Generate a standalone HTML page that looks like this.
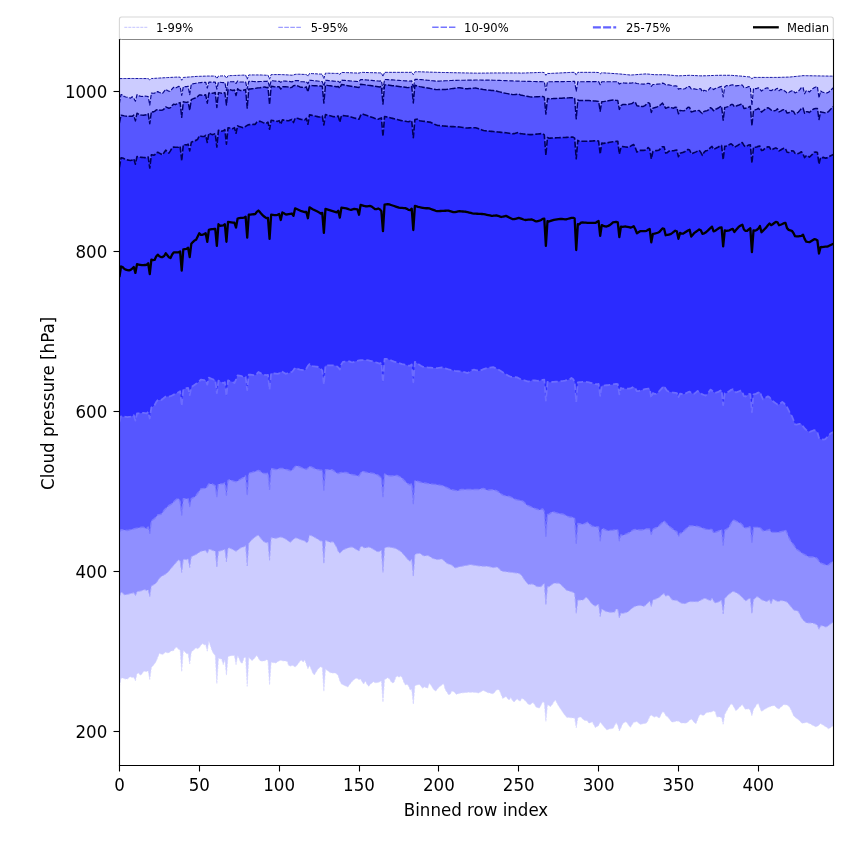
<!DOCTYPE html><html><head><meta charset="utf-8"><title>Cloud pressure percentiles</title><style>html,body{margin:0;padding:0;background:#fff;}svg{display:block;}text{font-family:"DejaVu Sans","Liberation Sans",sans-serif;fill:#000;}#wrap{position:relative;width:850px;height:850px;overflow:hidden;}.ov{position:absolute;left:0;top:0;will-change:transform;}</style></head><body><div id="wrap">
<svg width="850" height="850" viewBox="0 0 850 850">
<rect width="850" height="850" fill="#fff"/>
<defs><clipPath id="ax"><rect x="119.5" y="39.5" width="714.0" height="726.0"/></clipPath></defs>
<g clip-path="url(#ax)">
<polygon points="119.43,78.59 121.03,78.58 122.62,78.56 124.22,78.54 125.82,78.53 127.42,78.51 129.01,78.49 130.61,78.47 132.21,78.48 133.80,78.49 135.40,78.50 137.00,78.51 138.60,78.52 140.19,78.53 141.79,78.54 143.39,78.54 144.99,78.55 146.58,78.56 148.18,78.57 149.78,80.00 151.37,78.55 152.97,78.45 154.57,78.35 156.17,78.26 157.76,78.16 159.36,78.06 160.96,77.96 162.55,77.86 164.15,77.76 165.75,77.67 167.35,77.58 168.94,77.50 170.54,77.42 172.14,77.34 173.73,77.26 175.33,77.18 176.93,77.10 178.53,77.09 180.12,77.21 181.72,80.29 183.32,77.46 184.92,77.34 186.51,77.21 188.11,77.09 189.71,76.96 191.30,76.83 192.90,76.71 194.50,76.58 196.10,76.45 197.69,76.38 199.29,76.32 200.89,76.27 202.48,76.22 204.08,76.16 205.68,76.11 207.28,76.06 208.87,76.06 210.47,76.06 212.07,76.06 213.66,76.06 215.26,76.06 216.86,78.53 218.46,76.06 220.05,76.00 221.65,75.95 223.25,75.89 224.85,75.83 226.44,78.18 228.04,75.72 229.64,75.66 231.23,75.60 232.83,75.53 234.43,75.47 236.03,75.41 237.62,75.35 239.22,75.29 240.82,75.23 242.41,75.17 244.01,75.11 245.61,75.06 247.21,79.17 248.80,74.94 250.40,74.94 252.00,74.94 253.59,74.94 255.19,74.94 256.79,74.94 258.39,74.94 259.98,74.94 261.58,75.01 263.18,75.09 264.78,75.17 266.37,75.25 267.97,75.14 269.57,79.17 271.16,74.59 272.76,74.59 274.36,74.59 275.96,74.59 277.55,74.59 279.15,74.59 280.75,74.59 282.34,74.64 283.94,74.72 285.54,74.80 287.14,74.88 288.73,74.97 290.33,75.10 291.93,75.23 293.52,74.96 295.12,74.36 296.72,74.23 298.32,74.23 299.91,74.22 301.51,74.30 303.11,74.38 304.71,74.46 306.30,74.45 307.90,76.29 309.50,73.50 311.09,73.55 312.69,73.64 314.29,73.73 315.89,73.82 317.48,73.91 319.08,74.00 320.68,74.08 322.27,74.17 323.87,78.76 325.47,73.13 327.07,73.17 328.66,73.21 330.26,73.26 331.86,73.30 333.45,73.35 335.05,73.39 336.65,73.44 338.25,73.34 339.84,74.53 341.44,72.41 343.04,72.48 344.64,72.54 346.23,72.61 347.83,72.67 349.43,72.73 351.02,72.80 352.62,72.86 354.22,72.93 355.82,72.99 357.41,73.05 359.01,73.11 360.61,72.59 362.20,72.38 363.80,72.42 365.40,72.47 367.00,72.52 368.59,72.57 370.19,72.61 371.79,72.66 373.38,72.71 374.98,72.75 376.58,72.80 378.18,72.85 379.77,72.89 381.37,72.94 382.97,76.47 384.57,72.35 386.16,72.35 387.76,72.35 389.36,72.35 390.95,72.35 392.55,72.35 394.15,72.35 395.75,72.35 397.34,72.35 398.94,72.35 400.54,72.35 402.13,72.35 403.73,72.35 405.33,72.35 406.93,72.35 408.52,72.35 410.12,72.35 411.72,72.23 413.31,74.71 414.91,71.83 416.51,71.76 418.11,71.76 419.70,71.79 421.30,71.84 422.90,71.89 424.50,71.95 426.09,72.00 427.69,72.05 429.29,72.11 430.88,72.16 432.48,72.21 434.08,72.27 435.68,72.32 437.27,72.37 438.87,72.40 440.47,72.43 442.06,72.46 443.66,72.49 445.26,72.53 446.86,72.56 448.45,72.59 450.05,72.62 451.65,72.65 453.24,72.68 454.84,72.72 456.44,72.75 458.04,72.78 459.63,72.81 461.23,72.84 462.83,72.88 464.43,72.91 466.02,72.94 467.62,72.97 469.22,73.00 470.81,73.04 472.41,73.07 474.01,73.10 475.61,73.13 477.20,73.16 478.80,73.16 480.40,73.14 481.99,73.12 483.59,73.10 485.19,73.08 486.79,73.06 488.38,73.04 489.98,73.01 491.58,72.99 493.17,72.97 494.77,72.95 496.37,72.94 497.97,72.94 499.56,72.94 501.16,72.94 502.76,72.94 504.36,72.94 505.95,72.94 507.55,72.94 509.15,72.94 510.74,72.94 512.34,72.94 513.94,72.94 515.54,72.94 517.13,72.94 518.73,72.94 520.33,73.13 521.92,73.07 523.52,73.02 525.12,72.96 526.72,72.91 528.31,72.85 529.91,72.79 531.51,72.74 533.10,72.68 534.70,72.63 536.30,72.57 537.90,72.52 539.49,72.46 541.09,72.40 542.69,72.38 544.29,72.70 545.88,75.29 547.48,73.34 549.08,73.50 550.67,73.42 552.27,73.34 553.87,73.26 555.47,73.18 557.06,73.10 558.66,73.02 560.26,72.94 561.85,72.86 563.45,72.78 565.05,72.70 566.65,72.62 568.24,72.54 569.84,72.46 571.44,72.38 573.03,72.35 574.63,72.35 576.23,75.06 577.83,72.35 579.42,72.35 581.02,72.35 582.62,72.35 584.22,72.35 585.81,72.35 587.41,72.35 589.01,72.35 590.60,72.35 592.20,72.35 593.80,72.35 595.40,72.35 596.99,72.45 598.59,72.56 600.19,73.88 601.78,72.76 603.38,72.87 604.98,72.97 606.58,73.07 608.17,73.18 609.77,73.28 611.37,73.39 612.96,73.49 614.56,73.59 616.16,73.70 617.76,73.80 619.35,73.92 620.95,74.08 622.55,74.24 624.15,74.40 625.74,74.56 627.34,74.72 628.94,74.88 630.53,75.04 632.13,74.95 633.73,74.83 635.33,74.71 636.92,74.59 638.52,74.46 640.12,74.34 641.71,74.22 643.31,74.09 644.91,73.97 646.51,73.93 648.10,74.09 649.70,74.25 651.30,74.41 652.89,74.57 654.49,74.71 656.09,74.71 657.69,74.71 659.28,74.71 660.88,74.71 662.48,74.71 664.08,74.71 665.67,74.71 667.27,74.83 668.87,74.99 670.46,75.15 672.06,75.31 673.66,75.47 675.26,75.63 676.85,75.79 678.45,75.85 680.05,75.77 681.64,75.69 683.24,75.61 684.84,75.53 686.44,75.45 688.03,75.37 689.63,75.30 691.23,75.38 692.82,75.46 694.42,75.54 696.02,75.62 697.62,75.70 699.21,75.78 700.81,75.86 702.41,75.85 704.01,75.79 705.60,75.74 707.20,75.69 708.80,75.63 710.39,75.58 711.99,75.53 713.59,75.47 715.19,75.42 716.78,75.37 718.38,75.31 719.98,75.29 721.57,75.29 723.17,75.29 724.77,75.29 726.37,75.29 727.96,75.29 729.56,75.29 731.16,75.33 732.75,75.45 734.35,75.58 735.95,75.71 737.55,75.84 739.14,75.96 740.74,76.09 742.34,76.22 743.94,76.38 745.53,76.54 747.13,76.70 748.73,76.86 750.32,77.01 751.92,78.82 753.52,77.33 755.12,77.41 756.71,77.41 758.31,77.41 759.91,77.41 761.50,77.41 763.10,77.41 764.70,77.41 766.30,77.41 767.89,77.41 769.49,77.41 771.09,77.41 772.68,77.41 774.28,77.41 775.88,77.41 777.48,77.41 779.07,77.37 780.67,77.33 782.27,77.28 783.87,77.23 785.46,77.18 787.06,77.13 788.66,77.09 790.25,76.99 791.85,76.83 793.45,76.67 795.05,76.51 796.64,76.35 798.24,76.19 799.84,76.03 801.43,75.87 803.03,75.66 804.63,75.68 806.23,75.71 807.82,75.74 809.42,75.76 811.02,75.79 812.61,75.82 814.21,75.84 815.81,75.87 817.41,75.90 819.00,75.92 820.60,75.95 822.20,75.98 823.80,76.00 825.39,76.03 826.99,76.06 828.59,76.08 830.18,76.11 831.78,76.14 833.38,76.14 833.38,726.36 831.78,726.52 830.18,728.12 828.59,728.78 826.99,727.58 825.39,726.50 823.80,725.50 822.20,724.50 820.60,723.57 819.00,724.91 817.41,726.24 815.81,726.76 814.21,725.96 812.61,725.16 811.02,724.36 809.42,723.56 807.82,722.77 806.23,722.22 804.63,722.76 803.03,723.29 801.43,722.67 799.84,721.07 798.24,719.47 796.64,718.35 795.05,717.29 793.45,715.53 791.85,711.53 790.25,708.29 788.66,705.89 787.06,704.99 785.46,704.73 783.87,704.54 782.27,705.94 780.67,707.34 779.07,708.73 777.48,708.59 775.88,707.00 774.28,705.40 772.68,705.64 771.09,706.17 769.49,706.76 767.89,707.56 766.30,708.36 764.70,709.30 763.10,710.37 761.50,711.43 759.91,707.77 758.31,703.62 756.71,704.36 755.12,707.23 753.52,709.17 751.92,715.77 750.32,710.38 748.73,708.79 747.13,709.01 745.53,709.33 743.94,707.34 742.34,704.55 740.74,706.03 739.14,707.62 737.55,709.22 735.95,710.82 734.35,707.91 732.75,704.98 731.16,703.83 729.56,706.07 727.96,708.43 726.37,711.62 724.77,714.23 723.17,724.24 721.57,717.43 719.98,717.12 718.38,716.71 716.78,716.95 715.19,711.62 713.59,710.83 711.99,711.63 710.39,712.04 708.80,712.35 707.20,712.35 705.60,713.23 704.01,715.22 702.41,715.24 700.81,714.29 699.21,715.60 697.62,719.59 696.02,723.58 694.42,722.64 692.82,720.51 691.23,718.92 689.63,720.29 688.03,721.66 686.44,722.94 684.84,722.94 683.24,722.94 681.64,722.94 680.05,722.31 678.45,721.12 676.85,721.09 675.26,721.45 673.66,721.80 672.06,722.16 670.46,720.49 668.87,718.26 667.27,716.61 665.67,715.42 664.08,712.19 662.48,711.76 660.88,714.95 659.28,718.15 657.69,716.95 656.09,716.28 654.49,717.08 652.89,716.36 651.30,715.09 649.70,716.47 648.10,720.30 646.51,723.04 644.91,723.36 643.31,723.68 641.71,724.00 640.12,724.32 638.52,722.93 636.92,721.57 635.33,721.89 633.73,722.21 632.13,724.57 630.53,727.13 628.94,725.86 627.34,722.99 625.74,721.85 624.15,722.49 622.55,724.03 620.95,727.86 619.35,731.00 617.76,725.41 616.16,722.51 614.56,725.70 612.96,728.59 611.37,728.59 609.77,728.80 608.17,729.44 606.58,729.78 604.98,727.86 603.38,725.94 601.78,724.03 600.19,722.12 598.59,725.38 596.99,726.60 595.40,727.62 593.80,724.75 592.20,721.87 590.60,722.42 589.01,723.30 587.41,720.66 585.81,720.39 584.22,720.13 582.62,718.93 581.02,716.93 579.42,717.09 577.83,717.89 576.23,727.77 574.63,717.89 573.03,717.89 571.44,717.79 569.84,717.59 568.24,717.39 566.65,717.19 565.05,715.32 563.45,713.26 561.85,710.87 560.26,708.47 558.66,706.07 557.06,703.18 555.47,699.98 553.87,701.82 552.27,704.48 550.67,706.43 549.08,705.63 547.48,704.74 545.88,721.41 544.29,702.74 542.69,701.75 541.09,704.89 539.49,707.96 537.90,707.64 536.30,707.32 534.70,704.71 533.10,702.52 531.51,703.59 529.91,704.65 528.31,704.21 526.72,702.29 525.12,700.57 523.52,699.29 521.92,698.35 520.33,701.01 518.73,700.44 517.13,698.84 515.54,700.41 513.94,702.01 512.34,700.17 510.74,697.45 509.15,700.11 507.55,698.38 505.95,696.39 504.36,697.45 502.76,698.52 501.16,694.67 499.56,690.60 497.97,689.40 496.37,690.09 494.77,691.95 493.17,693.82 491.58,693.50 489.98,693.10 488.38,692.70 486.79,692.13 485.19,691.33 483.59,690.53 481.99,691.11 480.40,692.09 478.80,692.91 477.20,692.64 475.61,692.38 474.01,692.24 472.41,692.24 470.81,692.24 469.22,692.24 467.62,692.36 466.02,692.50 464.43,692.63 462.83,692.76 461.23,692.90 459.63,693.28 458.04,693.82 456.44,694.35 454.84,692.78 453.24,691.18 451.65,691.19 450.05,694.38 448.45,694.41 446.86,692.02 445.26,689.62 443.66,683.80 442.06,684.86 440.47,685.93 438.87,687.30 437.27,689.16 435.68,691.02 434.08,689.91 432.48,687.67 430.88,684.94 429.29,683.27 427.69,688.06 426.09,687.67 424.50,686.75 422.90,688.34 421.30,686.86 419.70,684.47 418.11,684.74 416.51,685.01 414.91,685.82 413.31,704.24 411.72,689.47 410.12,689.80 408.52,685.80 406.93,684.16 405.33,684.96 403.73,681.95 402.13,677.48 400.54,676.11 398.94,677.19 397.34,675.99 395.75,677.30 394.15,682.09 392.55,683.07 390.95,681.45 389.36,678.65 387.76,677.86 386.16,678.66 384.57,679.46 382.97,702.12 381.37,681.05 379.77,681.78 378.18,682.32 376.58,682.85 374.98,682.58 373.38,681.78 371.79,682.98 370.19,684.58 368.59,686.17 367.00,684.23 365.40,681.03 363.80,684.05 362.20,682.09 360.61,679.00 359.01,679.53 357.41,678.60 355.82,678.19 354.22,679.52 352.62,680.85 351.02,682.64 349.43,684.77 347.83,686.90 346.23,686.32 344.64,685.52 343.04,684.73 341.44,683.93 339.84,680.91 338.25,675.71 336.65,673.77 335.05,672.97 333.45,672.94 331.86,672.94 330.26,672.58 328.66,671.44 327.07,670.30 325.47,669.21 323.87,691.30 322.27,667.38 320.68,666.75 319.08,667.95 317.48,669.67 315.89,672.34 314.29,675.00 312.69,672.93 311.09,668.93 309.50,665.46 307.90,668.63 306.30,664.16 304.71,659.69 303.11,662.18 301.51,660.05 299.91,661.19 298.32,663.39 296.72,665.58 295.12,667.03 293.52,665.84 291.93,665.47 290.33,666.11 288.73,665.56 287.14,661.30 285.54,660.94 283.94,660.90 282.34,660.64 280.75,660.37 279.15,660.77 277.55,661.83 275.96,662.90 274.36,662.84 272.76,662.57 271.16,662.18 269.57,684.94 267.97,660.35 266.37,659.64 264.78,660.70 263.18,660.94 261.58,660.94 259.98,660.63 258.39,658.08 256.79,655.52 255.19,657.24 253.59,659.37 252.00,660.53 250.40,658.93 248.80,657.41 247.21,686.36 245.61,657.41 244.01,657.41 242.41,663.01 240.82,662.66 239.22,658.67 237.62,655.41 236.03,664.59 234.43,655.41 232.83,655.49 231.23,655.72 229.64,655.94 228.04,656.50 226.44,675.18 224.85,659.64 223.25,664.59 221.65,659.11 220.05,658.74 218.46,658.17 216.86,683.65 215.26,655.51 213.66,653.65 212.07,650.84 210.47,646.05 208.87,641.25 207.28,651.18 205.68,644.75 204.08,644.75 202.48,643.55 200.89,645.29 199.29,647.42 197.69,648.81 196.10,647.75 194.50,649.09 192.90,650.69 191.30,652.06 189.71,663.88 188.11,653.43 186.51,653.68 184.92,651.69 183.32,650.38 181.72,671.65 180.12,649.93 178.53,649.17 176.93,647.17 175.33,647.72 173.73,650.51 172.14,650.77 170.54,651.17 168.94,652.77 167.35,652.76 165.75,651.96 164.15,653.32 162.55,654.62 160.96,653.98 159.36,653.34 157.76,657.13 156.17,661.28 154.57,663.80 152.97,665.66 151.37,667.51 149.78,679.41 148.18,670.71 146.58,671.52 144.99,671.20 143.39,671.50 141.79,674.30 140.19,675.02 138.60,673.03 137.00,673.57 135.40,680.83 133.80,677.22 132.21,677.55 130.61,676.75 129.01,677.62 127.42,678.89 125.82,679.10 124.22,678.57 122.62,678.03 121.03,678.00 119.43,686.47" fill="#ccccff"/>
<polygon points="119.43,103.29 121.03,94.47 122.62,94.92 124.22,96.51 125.82,97.05 127.42,97.21 129.01,97.71 130.61,98.08 132.21,96.75 133.80,98.33 135.40,101.17 137.00,94.62 138.60,95.76 140.19,96.17 141.79,96.48 143.39,96.36 144.99,96.05 146.58,96.26 148.18,96.60 149.78,105.05 151.37,93.12 152.97,93.28 154.57,93.20 156.17,92.00 157.76,91.62 159.36,92.42 160.96,92.96 162.55,93.36 164.15,91.31 165.75,89.30 167.35,90.50 168.94,91.29 170.54,91.26 172.14,88.86 173.73,87.25 175.33,88.05 176.93,87.30 178.53,86.41 180.12,86.64 181.72,95.47 183.32,86.64 184.92,86.64 186.51,86.64 188.11,86.20 189.71,94.76 191.30,84.12 192.90,83.82 194.50,83.52 196.10,83.22 197.69,82.98 199.29,82.78 200.89,82.59 202.48,82.40 204.08,82.31 205.68,82.22 207.28,88.06 208.87,82.06 210.47,82.06 212.07,82.06 213.66,82.06 215.26,82.06 216.86,89.11 218.46,82.06 220.05,82.25 221.65,82.45 223.25,82.65 224.85,82.59 226.44,90.53 228.04,81.79 229.64,81.70 231.23,81.70 232.83,81.70 234.43,81.63 236.03,83.47 237.62,81.03 239.22,82.00 240.82,82.00 242.41,82.00 244.01,82.00 245.61,81.84 247.21,89.05 248.80,81.30 250.40,81.36 252.00,81.43 253.59,81.51 255.19,81.58 256.79,81.64 258.39,81.59 259.98,81.53 261.58,81.48 263.18,81.43 264.78,81.37 266.37,81.32 267.97,81.14 269.57,86.94 271.16,80.63 272.76,80.79 274.36,80.95 275.96,81.11 277.55,81.27 279.15,81.20 280.75,82.35 282.34,80.97 283.94,81.01 285.54,81.11 287.14,81.21 288.73,81.35 290.33,81.61 291.93,81.88 293.52,81.11 295.12,80.59 296.72,80.59 298.32,80.59 299.91,81.63 301.51,81.71 303.11,81.79 304.71,81.87 306.30,81.81 307.90,83.70 309.50,80.22 311.09,80.34 312.69,80.52 314.29,80.70 315.89,80.87 317.48,81.05 319.08,81.23 320.68,81.41 322.27,81.58 323.87,86.17 325.47,80.21 327.07,80.39 328.66,80.57 330.26,80.75 331.86,80.92 333.45,81.10 335.05,81.28 336.65,81.45 338.25,81.41 339.84,82.64 341.44,80.18 343.04,80.31 344.64,80.44 346.23,80.56 347.83,80.69 349.43,80.82 351.02,80.95 352.62,81.08 354.22,81.20 355.82,81.33 357.41,81.46 359.01,81.55 360.61,79.60 362.20,79.54 363.80,79.69 365.40,79.83 367.00,79.98 368.59,80.12 370.19,80.27 371.79,80.41 373.38,80.56 374.98,80.70 376.58,80.85 378.18,80.99 379.77,81.14 381.37,80.73 382.97,89.41 384.57,79.53 386.16,79.50 387.76,79.61 389.36,79.72 390.95,79.83 392.55,79.93 394.15,80.04 395.75,80.15 397.34,80.26 398.94,80.37 400.54,80.48 402.13,80.59 403.73,80.70 405.33,80.81 406.93,80.91 408.52,81.02 410.12,81.13 411.72,80.77 413.31,88.24 414.91,79.41 416.51,79.41 418.11,79.41 419.70,79.48 421.30,79.64 422.90,79.80 424.50,79.96 426.09,80.12 427.69,80.28 429.29,80.44 430.88,80.60 432.48,80.76 434.08,80.92 435.68,81.08 437.27,81.15 438.87,81.07 440.47,81.00 442.06,80.92 443.66,80.85 445.26,80.77 446.86,80.70 448.45,80.63 450.05,80.55 451.65,80.48 453.24,80.40 454.84,80.34 456.44,80.32 458.04,80.30 459.63,80.27 461.23,80.25 462.83,80.22 464.43,80.20 466.02,80.18 467.62,80.15 469.22,80.13 470.81,80.11 472.41,80.08 474.01,80.06 475.61,80.03 477.20,80.01 478.80,80.01 480.40,80.03 481.99,80.06 483.59,80.08 485.19,80.10 486.79,80.12 488.38,80.14 489.98,80.16 491.58,80.18 493.17,80.20 494.77,80.23 496.37,80.27 497.97,80.34 499.56,80.40 501.16,80.46 502.76,80.53 504.36,80.59 505.95,80.65 507.55,80.72 509.15,80.78 510.74,80.85 512.34,80.91 513.94,80.97 515.54,81.04 517.13,81.10 518.73,81.17 520.33,81.21 521.92,81.24 523.52,81.28 525.12,81.32 526.72,81.36 528.31,81.39 529.91,81.43 531.51,81.47 533.10,81.50 534.70,81.54 536.30,81.58 537.90,81.62 539.49,81.65 541.09,81.69 542.69,81.73 544.29,81.76 545.88,90.59 547.48,81.76 549.08,81.76 550.67,81.73 552.27,81.71 553.87,81.69 555.47,81.67 557.06,81.65 558.66,81.62 560.26,81.60 561.85,81.58 563.45,81.56 565.05,81.54 566.65,81.52 568.24,81.49 569.84,81.47 571.44,81.45 573.03,81.43 574.63,81.44 576.23,91.18 577.83,81.68 579.42,81.76 581.02,81.74 582.62,81.72 584.22,81.70 585.81,81.68 587.41,81.66 589.01,81.64 590.60,81.62 592.20,81.60 593.80,81.58 595.40,81.56 596.99,81.54 598.59,81.57 600.19,84.71 601.78,81.73 603.38,81.76 604.98,81.76 606.58,81.76 608.17,81.76 609.77,81.76 611.37,81.76 612.96,81.76 614.56,81.76 616.16,81.76 617.76,81.76 619.35,84.12 620.95,83.21 622.55,82.85 624.15,82.97 625.74,83.08 627.34,83.18 628.94,83.18 630.53,83.18 632.13,82.97 633.73,82.57 635.33,82.92 636.92,83.52 638.52,83.73 640.12,83.91 641.71,84.04 643.31,84.18 644.91,84.01 646.51,83.61 648.10,83.21 649.70,83.55 651.30,86.35 652.89,84.50 654.49,84.45 656.09,84.30 657.69,84.15 659.28,84.02 660.88,83.89 662.48,83.11 664.08,83.59 665.67,84.79 667.27,84.94 668.87,84.94 670.46,85.21 672.06,85.61 673.66,86.00 675.26,85.80 676.85,85.96 678.45,89.17 680.05,88.48 681.64,88.74 683.24,89.01 684.84,88.74 686.44,87.60 688.03,86.46 689.63,86.67 691.23,88.82 692.82,88.82 694.42,88.88 696.02,89.20 697.62,89.52 699.21,88.74 700.81,88.87 702.41,91.82 704.01,90.24 705.60,90.72 707.20,91.19 708.80,89.64 710.39,87.56 711.99,88.11 713.59,89.60 715.19,88.54 716.78,87.97 718.38,87.44 719.98,86.87 721.57,86.42 723.17,96.94 724.77,86.75 726.37,85.65 727.96,85.65 729.56,85.59 731.16,84.99 732.75,84.85 734.35,85.65 735.95,85.87 737.55,85.64 739.14,85.41 740.74,85.05 742.34,85.03 743.94,87.48 745.53,87.74 747.13,87.17 748.73,86.53 750.32,86.93 751.92,105.41 753.52,88.48 755.12,88.68 756.71,88.58 758.31,87.78 759.91,88.97 761.50,91.04 763.10,89.84 764.70,88.82 766.30,88.02 767.89,87.92 769.49,90.12 771.09,90.67 772.68,89.68 774.28,90.74 775.88,89.08 777.48,88.26 779.07,90.72 780.67,89.39 782.27,89.73 783.87,90.40 785.46,91.46 787.06,93.23 788.66,92.63 790.25,91.52 791.85,90.72 793.45,91.07 795.05,93.00 796.64,92.20 798.24,91.41 799.84,89.58 801.43,87.58 803.03,87.51 804.63,93.81 806.23,90.85 807.82,90.71 809.42,91.98 811.02,90.39 812.61,88.79 814.21,87.70 815.81,86.97 817.41,86.67 819.00,98.00 820.60,91.03 822.20,92.03 823.80,92.56 825.39,93.04 826.99,92.84 828.59,92.22 830.18,90.63 831.78,89.20 833.38,87.78 833.38,622.35 831.78,623.07 830.18,624.27 828.59,625.46 826.99,626.66 825.39,626.88 823.80,626.34 822.20,625.81 820.60,625.77 819.00,629.30 817.41,625.35 815.81,624.15 814.21,623.62 812.61,623.09 811.02,622.94 809.42,622.94 807.82,622.94 806.23,622.69 804.63,621.36 803.03,620.03 801.43,617.69 799.84,614.49 798.24,611.30 796.64,610.71 795.05,610.44 793.45,609.76 791.85,607.77 790.25,605.83 788.66,603.97 787.06,602.11 785.46,601.44 783.87,601.04 782.27,600.64 780.67,600.58 779.07,601.38 777.48,601.36 775.88,600.56 774.28,599.76 772.68,598.96 771.09,603.88 769.49,599.57 767.89,600.88 766.30,601.50 764.70,600.90 763.10,600.30 761.50,599.70 759.91,598.44 758.31,597.11 756.71,596.63 755.12,598.62 753.52,599.43 751.92,613.77 750.32,598.51 748.73,598.74 747.13,600.02 745.53,600.77 743.94,599.17 742.34,597.57 740.74,595.98 739.14,594.38 737.55,593.39 735.95,592.59 734.35,591.79 732.75,591.45 731.16,592.65 729.56,593.85 727.96,595.04 726.37,596.89 724.77,598.53 723.17,613.77 721.57,600.13 719.98,601.11 718.38,601.96 716.78,602.44 715.19,602.93 713.59,600.99 711.99,598.20 710.39,600.87 708.80,600.07 707.20,599.28 705.60,598.48 704.01,598.56 702.41,599.36 700.81,600.16 699.21,600.96 697.62,601.65 696.02,601.65 694.42,601.65 692.82,601.65 691.23,601.65 689.63,601.65 688.03,602.31 686.44,603.11 684.84,603.72 683.24,603.45 681.64,603.19 680.05,602.50 678.45,601.44 676.85,600.37 675.26,600.24 673.66,600.24 672.06,599.77 670.46,597.64 668.87,595.51 667.27,595.27 665.67,596.47 664.08,593.51 662.48,594.46 660.88,595.86 659.28,597.26 657.69,598.32 656.09,598.86 654.49,599.39 652.89,599.92 651.30,606.59 649.70,601.07 648.10,602.67 646.51,604.26 644.91,605.86 643.31,606.30 641.71,605.77 640.12,605.24 638.52,605.53 636.92,605.93 635.33,606.33 633.73,607.04 632.13,608.32 630.53,609.60 628.94,610.88 627.34,612.16 625.74,612.61 624.15,613.01 622.55,613.41 620.95,612.92 619.35,617.89 617.76,609.27 616.16,608.98 614.56,612.17 612.96,612.24 611.37,612.24 609.77,612.15 608.17,611.88 606.58,611.62 604.98,610.91 603.38,610.00 601.78,609.09 600.19,616.47 598.59,603.93 596.99,604.99 595.40,606.06 593.80,605.50 592.20,603.90 590.60,602.31 589.01,600.20 587.41,598.07 585.81,597.20 584.22,599.20 582.62,600.12 581.02,600.12 579.42,600.12 577.83,600.12 576.23,613.53 574.63,593.39 573.03,592.19 571.44,591.71 569.84,591.23 568.24,590.75 566.65,590.27 565.05,588.75 563.45,587.16 561.85,585.56 560.26,583.96 558.66,583.18 557.06,583.18 555.47,583.18 553.87,583.18 552.27,584.34 550.67,585.54 549.08,586.74 547.48,586.71 545.88,605.06 544.29,583.52 542.69,584.75 541.09,586.71 539.49,586.71 537.90,586.71 536.30,586.32 534.70,585.25 533.10,584.19 531.51,584.07 529.91,584.34 528.31,584.47 526.72,582.61 525.12,580.75 523.52,578.50 521.92,575.70 520.33,574.19 518.73,573.39 517.13,573.12 515.54,572.92 513.94,572.72 512.34,572.52 510.74,572.32 509.15,572.12 507.55,571.92 505.95,571.72 504.36,571.52 502.76,571.32 501.16,570.75 499.56,569.15 497.97,567.55 496.37,567.11 494.77,567.37 493.17,567.64 491.58,567.26 489.98,566.86 488.38,566.46 486.79,566.24 485.19,566.24 483.59,566.24 481.99,566.17 480.40,566.08 478.80,565.97 477.20,565.70 475.61,565.44 474.01,565.17 472.41,564.90 470.81,564.64 469.22,564.85 467.62,565.17 466.02,565.49 464.43,565.81 462.83,566.11 461.23,566.38 459.63,566.64 458.04,567.11 456.44,567.64 454.84,567.96 453.24,566.36 451.65,565.10 450.05,564.50 448.45,563.90 446.86,563.30 445.26,561.90 443.66,560.31 442.06,558.97 440.47,559.17 438.87,559.37 437.27,559.57 435.68,559.32 434.08,558.79 432.48,558.26 430.88,557.22 429.29,556.15 427.69,555.49 426.09,555.76 424.50,556.03 422.90,555.42 421.30,554.36 419.70,553.30 418.11,553.56 416.51,553.83 414.91,554.77 413.31,576.59 411.72,559.17 410.12,561.36 408.52,560.25 406.93,558.38 405.33,556.52 403.73,554.66 402.13,552.79 400.54,551.37 398.94,550.37 397.34,549.38 395.75,548.38 394.15,548.04 392.55,547.72 390.95,547.40 389.36,547.08 387.76,547.12 386.16,547.44 384.57,548.04 382.97,572.35 381.37,550.33 379.77,551.28 378.18,551.68 376.58,551.37 374.98,550.30 373.38,549.24 371.79,548.39 370.19,547.60 368.59,547.04 367.00,547.57 365.40,548.10 363.80,547.68 362.20,546.40 360.61,546.87 359.01,551.05 357.41,550.10 355.82,549.15 354.22,548.19 352.62,547.23 351.02,547.06 349.43,547.45 347.83,548.02 346.23,548.61 344.64,549.21 343.04,550.09 341.44,551.68 339.84,553.28 338.25,551.40 336.65,547.41 335.05,544.64 333.45,542.09 331.86,541.86 330.26,542.37 328.66,541.69 327.07,541.00 325.47,540.52 323.87,563.77 322.27,540.98 320.68,541.05 319.08,540.05 317.48,539.05 315.89,538.05 314.29,537.17 312.69,536.37 311.09,535.58 309.50,535.23 307.90,542.16 306.30,542.44 304.71,540.96 303.11,540.43 301.51,539.90 299.91,539.31 298.32,538.71 296.72,538.12 295.12,537.96 293.52,539.35 291.93,540.75 290.33,542.15 288.73,541.50 287.14,539.90 285.54,539.03 283.94,538.24 282.34,537.44 280.75,537.09 279.15,537.49 277.55,537.89 275.96,538.29 274.36,538.14 272.76,537.89 271.16,537.68 269.57,560.24 267.97,542.25 266.37,542.86 264.78,542.06 263.18,541.27 261.58,539.35 259.98,537.30 258.39,535.24 256.79,535.81 255.19,537.05 253.59,538.30 252.00,539.54 250.40,541.40 248.80,543.35 247.21,565.88 245.61,545.63 244.01,546.77 242.41,547.31 240.82,547.82 239.22,548.90 237.62,550.16 236.03,551.22 234.43,550.42 232.83,549.62 231.23,548.82 229.64,548.02 228.04,548.17 226.44,561.88 224.85,549.37 223.25,549.96 221.65,550.49 220.05,551.02 218.46,551.29 216.86,567.53 215.26,551.29 213.66,550.79 212.07,550.19 210.47,549.59 208.87,549.34 207.28,553.41 205.68,550.40 204.08,550.76 202.48,551.03 200.89,551.29 199.29,552.36 197.69,553.42 196.10,554.40 194.50,555.19 192.90,555.99 191.30,556.79 189.71,567.53 188.11,558.87 186.51,559.70 184.92,559.30 183.32,559.44 181.72,572.47 180.12,560.98 178.53,559.92 176.93,561.48 175.33,563.46 173.73,565.32 172.14,567.19 170.54,569.05 168.94,570.91 167.35,572.78 165.75,573.93 164.15,574.89 162.55,575.85 160.96,576.81 159.36,578.29 157.76,580.68 156.17,583.08 154.57,584.34 152.97,585.13 151.37,586.00 149.78,596.47 148.18,589.73 146.58,590.50 144.99,589.70 143.39,589.93 141.79,590.73 140.19,591.06 138.60,591.32 137.00,591.65 135.40,595.77 133.80,592.71 132.21,593.17 130.61,593.57 129.01,593.97 127.42,594.37 125.82,594.77 124.22,594.64 122.62,593.04 121.03,592.24 119.43,596.47" fill="#8f8fff"/>
<polygon points="119.43,123.05 121.03,115.29 122.62,115.49 124.22,115.89 125.82,116.11 127.42,116.27 129.01,116.34 130.61,116.34 132.21,116.34 133.80,115.08 135.40,120.93 137.00,113.20 138.60,114.07 140.19,114.94 141.79,115.14 143.39,115.22 144.99,114.95 146.58,114.69 148.18,113.72 149.78,123.75 151.37,111.56 152.97,111.96 154.57,111.32 156.17,110.04 157.76,109.53 159.36,110.13 160.96,110.24 162.55,110.08 164.15,108.96 165.75,106.89 167.35,107.55 168.94,108.22 170.54,107.63 172.14,105.56 173.73,104.13 175.33,104.66 176.93,103.88 178.53,103.00 180.12,102.59 181.72,117.34 183.32,101.83 184.92,102.10 186.51,102.36 188.11,102.04 189.71,110.29 191.30,99.65 192.90,98.90 194.50,98.30 196.10,97.50 197.69,96.53 199.29,94.94 200.89,95.04 202.48,95.36 204.08,95.19 205.68,94.79 207.28,103.23 208.87,93.02 210.47,93.15 212.07,93.28 213.66,93.05 215.26,92.45 216.86,107.46 218.46,92.63 220.05,92.90 221.65,93.16 223.25,93.18 224.85,92.65 226.44,104.99 228.04,89.47 229.64,89.53 231.23,90.06 232.83,90.46 234.43,89.89 236.03,95.47 237.62,88.81 239.22,90.17 240.82,90.57 242.41,90.60 244.01,90.00 245.61,89.60 247.21,108.11 248.80,89.07 250.40,88.93 252.00,88.79 253.59,88.62 255.19,88.36 256.79,88.09 258.39,87.87 259.98,87.67 261.58,87.41 263.18,87.14 264.78,87.03 266.37,87.43 267.97,87.35 269.57,104.58 271.16,86.29 272.76,86.52 274.36,86.75 275.96,86.92 277.55,86.84 279.15,86.76 280.75,89.05 282.34,86.60 283.94,86.66 285.54,86.76 287.14,86.86 288.73,87.06 290.33,87.66 291.93,87.29 293.52,85.69 295.12,85.40 296.72,85.75 298.32,86.09 299.91,86.99 301.51,87.19 303.11,87.39 304.71,87.56 306.30,86.87 307.90,91.82 309.50,85.50 311.09,85.55 312.69,85.64 314.29,85.73 315.89,85.82 317.48,85.90 319.08,85.99 320.68,86.08 322.27,86.17 323.87,103.11 325.47,85.16 327.07,85.38 328.66,85.61 330.26,85.83 331.86,86.05 333.45,86.27 335.05,86.49 336.65,86.72 338.25,86.57 339.84,88.29 341.44,84.43 343.04,84.75 344.64,85.07 346.23,85.39 347.83,85.70 349.43,85.99 351.02,86.26 352.62,86.52 354.22,86.79 355.82,87.05 357.41,87.32 359.01,87.51 360.61,84.18 362.20,84.42 363.80,84.65 365.40,84.89 367.00,85.12 368.59,85.36 370.19,85.59 371.79,85.83 373.38,86.06 374.98,86.29 376.58,86.53 378.18,86.76 379.77,87.00 381.37,86.46 382.97,104.12 384.57,84.86 386.16,84.87 387.76,85.07 389.36,85.27 390.95,85.46 392.55,85.66 394.15,85.86 395.75,86.06 397.34,86.26 398.94,86.46 400.54,86.66 402.13,86.86 403.73,87.06 405.33,87.26 406.93,87.46 408.52,87.61 410.12,87.03 411.72,86.44 413.31,102.94 414.91,85.30 416.51,85.76 418.11,86.22 419.70,86.60 421.30,86.88 422.90,87.17 424.50,87.46 426.09,87.75 427.69,88.03 429.29,88.32 430.88,88.61 432.48,88.90 434.08,89.18 435.68,89.47 437.27,89.63 438.87,89.59 440.47,89.55 442.06,89.51 443.66,89.47 445.26,89.43 446.86,89.30 448.45,89.09 450.05,88.87 451.65,88.65 453.24,88.43 454.84,88.21 456.44,88.00 458.04,87.78 459.63,87.75 461.23,88.02 462.83,88.29 464.43,88.55 466.02,88.82 467.62,88.69 469.22,88.55 470.81,88.41 472.41,88.27 474.01,88.13 475.61,88.03 477.20,88.35 478.80,88.67 480.40,88.99 481.99,89.30 483.59,89.62 485.19,89.80 486.79,89.96 488.38,90.11 489.98,90.27 491.58,90.43 493.17,90.59 494.77,90.75 496.37,91.05 497.97,91.47 499.56,91.88 501.16,92.29 502.76,92.70 504.36,93.06 505.95,93.36 507.55,93.66 509.15,93.96 510.74,94.26 512.34,94.56 513.94,94.62 515.54,94.46 517.13,94.30 518.73,94.14 520.33,94.97 521.92,95.29 523.52,95.61 525.12,95.93 526.72,96.25 528.31,96.57 529.91,96.89 531.51,97.02 533.10,96.94 534.70,96.86 536.30,96.78 537.90,96.70 539.49,96.62 541.09,96.54 542.69,96.53 544.29,97.17 545.88,114.12 547.48,98.45 549.08,98.79 550.67,98.71 552.27,98.63 553.87,98.55 555.47,98.47 557.06,98.39 558.66,98.31 560.26,98.23 561.85,98.16 563.45,98.09 565.05,98.01 566.65,97.94 568.24,97.87 569.84,97.80 571.44,97.72 573.03,97.65 574.63,98.40 576.23,118.82 577.83,100.00 579.42,100.59 581.02,100.59 582.62,100.59 584.22,100.59 585.81,100.59 587.41,100.59 589.01,100.59 590.60,100.67 592.20,100.81 593.80,100.94 595.40,101.07 596.99,101.21 598.59,101.37 600.19,111.18 601.78,101.69 603.38,101.62 604.98,101.36 606.58,101.09 608.17,100.82 609.77,100.56 611.37,100.29 612.96,100.03 614.56,100.18 616.16,100.38 617.76,100.58 619.35,109.41 620.95,105.52 622.55,104.52 624.15,104.46 625.74,104.59 627.34,104.63 628.94,104.23 630.53,103.83 632.13,103.43 633.73,102.26 635.33,102.27 636.92,105.73 638.52,106.02 640.12,106.29 641.71,106.46 643.31,106.46 644.91,105.63 646.51,104.16 648.10,102.70 649.70,103.39 651.30,112.46 652.89,108.12 654.49,107.72 656.09,107.32 657.69,106.68 659.28,105.88 660.88,104.53 662.48,103.10 664.08,105.49 665.67,108.33 667.27,107.53 668.87,107.28 670.46,107.48 672.06,107.84 673.66,108.21 675.26,107.22 676.85,107.45 678.45,113.87 680.05,110.35 681.64,110.62 683.24,110.89 684.84,110.45 686.44,108.85 688.03,107.25 689.63,107.40 691.23,111.93 692.82,111.54 694.42,111.01 696.02,110.81 697.62,110.61 699.21,110.41 700.81,112.27 702.41,113.52 704.01,111.40 705.60,111.00 707.20,110.60 708.80,109.64 710.39,107.64 711.99,108.70 713.59,110.70 715.19,109.37 716.78,108.73 718.38,108.03 719.98,106.83 721.57,106.33 723.17,120.23 724.77,107.39 726.37,107.12 727.96,106.59 729.56,105.97 731.16,104.57 732.75,104.44 734.35,106.81 735.95,106.17 737.55,105.53 739.14,104.98 740.74,104.33 742.34,104.41 743.94,108.50 745.53,108.18 747.13,107.84 748.73,107.04 750.32,106.24 751.92,125.87 753.52,110.32 755.12,109.92 756.71,109.34 758.31,108.34 759.91,109.72 761.50,112.17 763.10,110.77 764.70,109.58 766.30,108.65 767.89,107.72 769.49,108.63 771.09,110.00 772.68,110.40 774.28,110.80 775.88,110.36 777.48,108.73 779.07,111.92 780.67,111.11 782.27,110.04 783.87,109.61 785.46,109.88 787.06,113.07 788.66,112.81 790.25,111.68 791.85,110.85 793.45,111.49 795.05,114.16 796.64,113.21 798.24,112.25 799.84,110.40 801.43,108.40 803.03,108.07 804.63,113.36 806.23,111.76 807.82,111.79 809.42,112.48 811.02,111.02 812.61,109.55 814.21,108.77 815.81,108.48 817.41,108.46 819.00,119.52 820.60,111.66 822.20,112.30 823.80,112.57 825.39,112.79 826.99,112.39 828.59,111.55 830.18,109.69 831.78,108.08 833.38,106.49 833.38,560.81 831.78,562.14 830.18,563.47 828.59,564.80 826.99,565.29 825.39,564.76 823.80,564.23 822.20,563.61 820.60,562.97 819.00,561.14 817.41,558.86 815.81,557.67 814.21,557.06 812.61,557.06 811.02,557.06 809.42,557.06 807.82,556.29 806.23,555.50 804.63,554.70 803.03,553.76 801.43,552.65 799.84,551.53 798.24,550.41 796.64,549.29 795.05,546.89 793.45,544.56 791.85,542.43 790.25,540.30 788.66,537.08 787.06,533.08 785.46,529.74 783.87,530.96 782.27,531.36 780.67,531.76 779.07,532.16 777.48,532.35 775.88,532.35 774.28,532.35 772.68,532.35 771.09,532.10 769.49,529.44 767.89,530.30 766.30,530.50 764.70,530.70 763.10,530.90 761.50,529.37 759.91,527.41 758.31,527.41 756.71,527.41 755.12,527.41 753.52,527.38 751.92,542.24 750.32,526.11 748.73,527.34 747.13,527.67 745.53,527.93 743.94,527.40 742.34,525.01 740.74,523.46 739.14,522.66 737.55,521.86 735.95,521.06 734.35,520.27 732.75,520.31 731.16,523.24 729.56,526.17 727.96,528.15 726.37,529.43 724.77,530.14 723.17,545.06 721.57,529.61 719.98,530.29 718.38,531.16 716.78,531.73 715.19,532.30 713.59,532.86 711.99,529.53 710.39,529.41 708.80,529.41 707.20,529.41 705.60,529.15 704.01,528.55 702.41,527.95 700.81,527.36 699.21,526.94 697.62,526.54 696.02,526.14 694.42,525.88 692.82,525.88 691.23,525.88 689.63,525.88 688.03,527.10 686.44,528.56 684.84,530.03 683.24,531.49 681.64,532.95 680.05,533.23 678.45,536.47 676.85,531.63 675.26,530.83 673.66,529.64 672.06,528.44 670.46,527.24 668.87,525.87 667.27,524.27 665.67,522.67 664.08,521.07 662.48,522.41 660.88,524.01 659.28,525.60 657.69,526.90 656.09,527.69 654.49,528.49 652.89,529.29 651.30,534.36 649.70,529.05 648.10,528.85 646.51,528.83 644.91,529.23 643.31,529.63 641.71,530.03 640.12,530.00 638.52,529.84 636.92,529.68 635.33,529.52 633.73,529.75 632.13,530.71 630.53,531.67 628.94,532.63 627.34,533.59 625.74,534.21 624.15,534.81 622.55,535.41 620.95,534.81 619.35,540.71 617.76,530.02 616.16,529.61 614.56,529.88 612.96,530.14 611.37,530.34 609.77,530.54 608.17,530.74 606.58,530.38 604.98,529.58 603.38,528.78 601.78,529.07 600.19,540.71 598.59,527.02 596.99,526.86 595.40,526.70 593.80,526.54 592.20,526.38 590.60,525.01 589.01,523.42 587.41,522.27 585.81,523.07 584.22,523.87 582.62,524.13 581.02,523.93 579.42,523.73 577.83,523.53 576.23,543.30 574.63,518.74 573.03,517.18 571.44,517.18 569.84,517.18 568.24,516.62 566.65,515.82 565.05,515.02 563.45,514.30 561.85,513.98 560.26,513.66 558.66,513.35 557.06,513.03 555.47,512.55 553.87,512.02 552.27,511.65 550.67,512.98 549.08,514.31 547.48,514.50 545.88,536.24 544.29,511.63 542.69,508.97 541.09,509.43 539.49,510.05 537.90,509.52 536.30,508.98 534.70,508.39 533.10,507.72 531.51,507.06 529.91,506.39 528.31,505.72 526.72,504.89 525.12,503.30 523.52,501.70 521.92,500.77 520.33,500.46 518.73,500.14 517.13,499.82 515.54,499.45 513.94,498.65 512.34,497.85 510.74,497.05 509.15,496.52 507.55,496.21 505.95,495.89 504.36,495.57 502.76,495.11 501.16,493.92 499.56,492.72 497.97,491.52 496.37,490.73 494.77,490.20 493.17,489.67 491.58,489.84 489.98,490.04 488.38,490.24 486.79,490.01 485.19,489.21 483.59,488.41 481.99,488.62 480.40,489.11 478.80,489.53 477.20,489.53 475.61,489.53 474.01,489.53 472.41,489.53 470.81,489.53 469.22,489.53 467.62,489.53 466.02,489.53 464.43,489.53 462.83,489.53 461.23,489.53 459.63,490.04 458.04,490.84 456.44,490.67 454.84,490.35 453.24,490.03 451.65,489.71 450.05,489.17 448.45,488.37 446.86,487.57 445.26,486.78 443.66,485.99 442.06,485.67 440.47,485.35 438.87,485.03 437.27,484.71 435.68,484.49 434.08,484.33 432.48,484.17 430.88,484.01 429.29,483.83 427.69,483.57 426.09,483.30 424.50,483.03 422.90,482.77 421.30,482.50 419.70,482.00 418.11,481.47 416.51,480.93 414.91,480.40 413.31,503.65 411.72,483.40 410.12,485.00 408.52,484.21 406.93,482.88 405.33,481.50 403.73,479.91 402.13,478.31 400.54,477.12 398.94,476.32 397.34,475.52 395.75,475.55 394.15,475.71 392.55,475.87 390.95,476.03 389.36,475.86 387.76,475.26 386.16,474.66 384.57,474.06 382.97,496.59 381.37,477.65 379.77,476.76 378.18,475.19 376.58,474.59 374.98,473.99 373.38,473.40 371.79,473.13 370.19,472.93 368.59,472.73 367.00,472.47 365.40,472.07 363.80,471.67 362.20,471.27 360.61,473.26 359.01,475.99 357.41,475.68 355.82,475.36 354.22,475.04 352.62,474.72 351.02,474.24 349.43,473.64 347.83,473.05 346.23,472.47 344.64,472.47 343.04,472.47 341.44,472.47 339.84,472.88 338.25,473.67 336.65,473.00 335.05,471.80 333.45,470.60 331.86,469.65 330.26,469.65 328.66,469.65 327.07,469.65 325.47,469.65 323.87,490.12 322.27,470.12 320.68,470.30 319.08,469.90 317.48,469.50 315.89,469.10 314.29,468.47 312.69,467.67 311.09,466.87 309.50,466.24 307.90,468.23 306.30,469.47 304.71,468.87 303.11,468.28 301.51,467.68 299.91,467.01 298.32,466.33 296.72,465.64 295.12,466.62 293.52,468.45 291.93,470.27 290.33,470.76 288.73,470.23 287.14,469.69 285.54,469.28 283.94,468.88 282.34,468.48 280.75,468.39 279.15,468.79 277.55,469.19 275.96,469.59 274.36,469.26 272.76,468.81 271.16,468.35 269.57,489.41 267.97,472.71 266.37,473.74 264.78,473.47 263.18,473.21 261.58,472.23 259.98,471.17 258.39,470.47 256.79,470.95 255.19,471.43 253.59,471.91 252.00,472.38 250.40,472.80 248.80,473.24 247.21,495.77 245.61,475.91 244.01,477.09 242.41,478.05 240.82,479.00 239.22,479.96 237.62,480.91 236.03,481.73 234.43,481.33 232.83,480.88 231.23,480.35 229.64,479.82 228.04,480.46 226.44,495.18 224.85,482.86 223.25,483.88 221.65,483.88 220.05,483.88 218.46,483.88 216.86,496.59 215.26,485.73 213.66,484.77 212.07,483.88 210.47,483.88 208.87,483.88 207.28,486.63 205.68,488.23 204.08,488.43 202.48,488.63 200.89,488.83 199.29,491.02 197.69,493.22 196.10,495.41 194.50,496.96 192.90,497.76 191.30,498.56 189.71,506.47 188.11,498.71 186.51,498.71 184.92,498.71 183.32,498.71 181.72,514.94 180.12,501.66 178.53,498.46 176.93,499.03 175.33,500.26 173.73,501.86 172.14,503.46 170.54,504.70 168.94,505.50 167.35,506.84 165.75,508.43 164.15,510.04 162.55,512.44 160.96,514.30 159.36,514.57 157.76,514.84 156.17,516.85 154.57,518.58 152.97,519.72 151.37,520.86 149.78,533.30 148.18,526.99 146.58,528.74 144.99,527.94 143.39,527.14 141.79,527.19 140.19,527.51 138.60,527.83 137.00,528.15 135.40,528.49 133.80,528.89 132.21,529.29 130.61,529.69 129.01,530.09 127.42,530.47 125.82,530.27 124.22,530.07 122.62,529.87 121.03,529.77 119.43,531.89" fill="#5656ff"/>
<polygon points="119.43,167.34 121.03,157.82 122.62,158.02 124.22,158.75 125.82,159.47 127.42,159.87 129.01,160.21 130.61,160.56 132.21,160.03 133.80,158.96 135.40,164.17 137.00,156.49 138.60,156.89 140.19,157.18 141.79,157.34 143.39,157.50 144.99,157.63 146.58,157.76 148.18,156.96 149.78,168.05 151.37,154.76 152.97,155.08 154.57,154.99 156.17,153.00 157.76,152.19 159.36,153.08 160.96,153.98 162.55,154.88 164.15,152.55 165.75,150.21 167.35,151.64 168.94,153.08 170.54,150.65 172.14,147.77 173.73,147.01 175.33,147.21 176.93,147.23 178.53,147.23 180.12,146.28 181.72,160.81 183.32,144.59 184.92,144.75 186.51,144.91 188.11,144.15 189.71,150.93 191.30,142.31 192.90,141.51 194.50,140.71 196.10,140.35 197.69,139.23 199.29,135.87 200.89,136.21 202.48,136.56 204.08,136.52 205.68,135.26 207.28,142.46 208.87,133.05 210.47,133.85 212.07,134.65 213.66,134.33 215.26,133.59 216.86,147.05 218.46,130.19 220.05,131.17 221.65,131.17 223.25,130.82 224.85,129.68 226.44,144.23 228.04,127.72 229.64,128.06 231.23,128.40 232.83,128.59 234.43,127.68 236.03,133.29 237.62,125.90 239.22,126.53 240.82,127.06 242.41,127.60 244.01,127.37 245.61,126.34 247.21,125.32 248.80,124.66 250.40,124.58 252.00,124.50 253.59,124.42 255.19,124.34 256.79,122.26 258.39,121.39 259.98,121.19 261.58,121.87 263.18,122.64 264.78,123.24 266.37,123.24 267.97,122.10 269.57,129.28 271.16,120.20 272.76,120.55 274.36,120.91 275.96,121.26 277.55,121.33 279.15,120.67 280.75,124.34 282.34,119.90 283.94,120.14 285.54,120.38 287.14,120.62 288.73,120.68 290.33,120.04 291.93,119.40 293.52,122.58 295.12,118.12 296.72,118.24 298.32,118.56 299.91,119.16 301.51,119.46 303.11,119.76 304.71,119.98 306.30,118.27 307.90,124.28 309.50,114.85 311.09,115.10 312.69,115.48 314.29,115.85 315.89,116.22 317.48,116.60 319.08,116.97 320.68,116.93 322.27,116.02 323.87,124.99 325.47,114.50 327.07,114.93 328.66,115.36 330.26,115.79 331.86,116.22 333.45,116.65 335.05,116.72 336.65,116.40 338.25,116.08 339.84,122.16 341.44,115.47 343.04,115.63 344.64,115.79 346.23,115.95 347.83,116.11 349.43,116.47 351.02,116.95 352.62,117.43 354.22,117.91 355.82,118.39 357.41,118.87 359.01,119.28 360.61,115.36 362.20,113.83 363.80,114.40 365.40,114.97 367.00,115.54 368.59,116.12 370.19,116.69 371.79,117.26 373.38,117.83 374.98,118.40 376.58,118.97 378.18,119.26 379.77,118.60 381.37,117.93 382.97,136.47 384.57,116.60 386.16,116.79 387.76,117.19 389.36,117.59 390.95,117.99 392.55,118.39 394.15,118.79 395.75,119.19 397.34,119.59 398.94,119.98 400.54,120.38 402.13,120.72 403.73,120.98 405.33,121.25 406.93,121.52 408.52,121.73 410.12,121.20 411.72,120.66 413.31,137.65 414.91,119.60 416.51,119.24 418.11,118.97 419.70,120.69 421.30,120.93 422.90,121.17 424.50,121.41 426.09,121.65 427.69,121.89 429.29,122.13 430.88,122.41 432.48,123.21 434.08,124.01 435.68,124.81 437.27,125.36 438.87,125.52 440.47,125.68 442.06,125.84 443.66,126.00 445.26,126.16 446.86,126.32 448.45,126.47 450.05,126.53 451.65,126.59 453.24,126.65 454.84,126.71 456.44,126.77 458.04,126.85 459.63,127.08 461.23,127.31 462.83,127.54 464.43,127.77 466.02,127.99 467.62,127.94 469.22,127.88 470.81,127.82 472.41,127.76 474.01,127.70 475.61,127.70 477.20,128.27 478.80,128.84 480.40,129.41 481.99,129.98 483.59,130.55 485.19,130.74 486.79,130.90 488.38,131.06 489.98,131.22 491.58,131.38 493.17,131.54 494.77,131.69 496.37,131.85 497.97,132.01 499.56,132.17 501.16,132.33 502.76,132.49 504.36,132.65 505.95,132.81 507.55,132.99 509.15,133.25 510.74,133.50 512.34,133.76 513.94,133.67 515.54,133.25 517.13,132.84 518.73,132.42 520.33,133.66 521.92,133.82 523.52,133.98 525.12,134.14 526.72,134.30 528.31,134.46 529.91,134.62 531.51,134.63 533.10,134.47 534.70,134.31 536.30,134.15 537.90,133.99 539.49,133.83 541.09,133.67 542.69,133.66 544.29,134.93 545.88,155.29 547.48,137.49 549.08,138.20 550.67,138.12 552.27,138.04 553.87,137.96 555.47,137.88 557.06,137.80 558.66,137.72 560.26,137.64 561.85,137.57 563.45,137.50 565.05,137.43 566.65,137.35 568.24,137.28 569.84,137.21 571.44,137.14 573.03,137.06 574.63,138.12 576.23,158.82 577.83,140.35 579.42,141.18 581.02,141.18 582.62,141.18 584.22,141.18 585.81,141.18 587.41,141.18 589.01,141.18 590.60,141.10 592.20,140.99 593.80,140.88 595.40,140.76 596.99,140.65 598.59,141.07 600.19,154.12 601.78,143.06 603.38,143.39 604.98,143.12 606.58,142.85 608.17,142.59 609.77,142.32 611.37,142.06 612.96,141.79 614.56,141.58 616.16,141.38 617.76,141.18 619.35,154.12 620.95,147.44 622.55,146.52 624.15,146.72 625.74,146.92 627.34,147.12 628.94,146.73 630.53,146.13 632.13,145.34 633.73,144.54 635.33,147.68 636.92,152.07 638.52,151.12 640.12,150.35 641.71,150.35 643.31,150.35 644.91,150.12 646.51,149.72 648.10,147.50 649.70,148.79 651.30,158.81 652.89,151.60 654.49,151.00 656.09,150.62 657.69,150.46 659.28,149.88 660.88,148.28 662.48,146.68 664.08,146.69 665.67,153.08 667.27,152.62 668.87,151.18 670.46,150.70 672.06,150.70 673.66,150.70 675.26,150.24 676.85,150.03 678.45,156.70 680.05,153.16 681.64,152.76 683.24,152.36 684.84,151.68 686.44,150.54 688.03,149.40 689.63,149.95 691.23,153.77 692.82,153.19 694.42,152.61 696.02,151.86 697.62,151.06 699.21,150.27 700.81,152.39 702.41,155.31 704.01,152.34 705.60,150.87 707.20,150.55 708.80,149.61 710.39,147.53 711.99,146.40 713.59,149.43 715.19,148.63 716.78,147.83 718.38,147.00 719.98,146.00 721.57,145.57 723.17,159.52 724.77,146.37 726.37,145.93 727.96,145.22 729.56,144.51 731.16,143.80 732.75,145.19 734.35,147.16 735.95,146.37 737.55,145.57 739.14,144.35 740.74,142.92 742.34,142.62 743.94,145.41 745.53,146.83 747.13,145.92 748.73,145.01 750.32,144.70 751.92,163.05 753.52,147.17 755.12,147.17 756.71,146.98 758.31,146.34 759.91,146.15 761.50,150.41 763.10,150.18 764.70,148.58 766.30,147.65 767.89,146.72 769.49,147.13 771.09,149.98 772.68,149.28 774.28,148.58 775.88,147.88 777.48,148.82 779.07,150.90 780.67,149.94 782.27,148.98 783.87,148.36 785.46,148.57 787.06,152.29 788.66,152.46 790.25,151.99 791.85,150.75 793.45,150.93 795.05,153.33 796.64,153.98 798.24,153.58 799.84,152.70 801.43,151.74 803.03,154.06 804.63,157.57 806.23,155.75 807.82,155.97 809.42,157.07 811.02,155.64 812.61,154.19 814.21,152.27 815.81,151.93 817.41,152.54 819.00,164.11 820.60,157.36 822.20,157.61 823.80,157.41 825.39,158.16 826.99,157.86 828.59,156.90 830.18,156.04 831.78,155.32 833.38,154.59 833.38,432.12 831.78,432.85 830.18,433.81 828.59,435.61 826.99,437.40 825.39,439.20 823.80,439.63 822.20,439.43 820.60,439.23 819.00,438.00 817.41,432.29 815.81,430.69 814.21,430.18 812.61,430.78 811.02,431.38 809.42,431.98 807.82,430.98 806.23,429.92 804.63,428.52 803.03,426.39 801.43,424.26 799.84,423.79 798.24,424.19 796.64,424.59 795.05,424.41 793.45,420.02 791.85,416.19 790.25,413.40 788.66,410.37 787.06,407.17 785.46,405.07 783.87,403.20 782.27,401.87 780.67,403.20 779.07,404.53 777.48,404.56 775.88,403.37 774.28,402.17 772.68,400.97 771.09,399.12 769.49,397.26 767.89,396.33 766.30,397.33 764.70,398.32 763.10,399.32 761.50,396.06 759.91,391.78 758.31,392.58 756.71,393.38 755.12,394.18 753.52,394.49 751.92,412.24 750.32,394.09 748.73,393.89 747.13,395.15 745.53,396.48 743.94,396.22 742.34,392.23 740.74,390.67 739.14,391.27 737.55,391.87 735.95,392.47 734.35,390.88 732.75,389.28 731.16,389.82 729.56,390.94 727.96,392.06 726.37,393.18 724.77,393.30 723.17,405.18 721.57,390.11 719.98,390.79 718.38,391.94 716.78,392.38 715.19,392.83 713.59,391.96 711.99,390.63 710.39,389.63 708.80,392.02 707.20,394.42 705.60,395.54 704.01,395.00 702.41,394.47 700.81,393.31 699.21,391.98 697.62,391.00 696.02,392.33 694.42,393.66 692.82,393.84 691.23,392.78 689.63,391.71 688.03,392.19 686.44,392.99 684.84,393.79 683.24,394.28 681.64,394.01 680.05,393.75 678.45,397.18 676.85,393.21 675.26,392.95 673.66,392.68 672.06,392.41 670.46,392.06 668.87,391.53 667.27,390.99 665.67,388.91 664.08,386.11 662.48,387.53 660.88,389.33 659.28,391.13 657.69,392.70 656.09,393.89 654.49,393.86 652.89,393.07 651.30,397.89 649.70,388.71 648.10,388.71 646.51,388.83 644.91,389.23 643.31,389.63 641.71,390.03 640.12,390.53 638.52,391.06 636.92,391.19 635.33,388.39 633.73,386.87 632.13,387.67 630.53,388.47 628.94,388.71 627.34,388.71 625.74,388.71 624.15,388.71 622.55,388.71 620.95,387.96 619.35,394.36 617.76,384.24 616.16,383.97 614.56,384.23 612.96,384.49 611.37,384.69 609.77,384.89 608.17,385.09 606.58,385.27 604.98,385.43 603.38,385.59 601.78,385.75 600.19,395.77 598.59,383.87 596.99,384.27 595.40,384.21 593.80,383.68 592.20,383.15 590.60,382.79 589.01,382.47 587.41,382.15 585.81,381.83 584.22,381.72 582.62,381.88 581.02,382.04 579.42,382.20 577.83,382.35 576.23,402.12 574.63,381.70 573.03,378.91 571.44,377.97 569.84,379.17 568.24,379.81 566.65,380.21 565.05,380.61 563.45,380.97 561.85,381.13 560.26,381.29 558.66,381.45 557.06,381.61 555.47,381.75 553.87,381.88 552.27,382.01 550.67,382.15 549.08,382.28 547.48,381.89 545.88,400.71 544.29,379.76 542.69,379.85 541.09,380.24 539.49,380.64 537.90,380.89 536.30,380.69 534.70,380.49 533.10,380.29 531.51,380.62 529.91,381.15 528.31,381.62 526.72,381.14 525.12,380.66 523.52,380.18 521.92,379.70 520.33,379.02 518.73,378.22 517.13,377.42 515.54,377.26 513.94,377.10 512.34,376.94 510.74,376.78 509.15,376.16 507.55,375.20 505.95,374.24 504.36,373.28 502.76,372.32 501.16,371.32 499.56,370.32 497.97,369.33 496.37,368.52 494.77,367.82 493.17,367.13 491.58,367.35 489.98,367.61 488.38,367.86 486.79,368.12 485.19,368.57 483.59,369.18 481.99,369.80 480.40,370.41 478.80,370.89 477.20,370.49 475.61,370.09 474.01,369.69 472.41,370.12 470.81,371.12 469.22,372.12 467.62,373.04 466.02,372.64 464.43,372.24 462.83,371.84 461.23,371.57 459.63,371.41 458.04,371.25 456.44,371.09 454.84,370.90 453.24,370.50 451.65,370.10 450.05,369.70 448.45,369.26 446.86,368.78 445.26,368.30 443.66,367.82 442.06,367.44 440.47,367.64 438.87,367.84 437.27,368.04 435.68,368.05 434.08,367.95 432.48,367.84 430.88,367.72 429.29,367.60 427.69,367.48 426.09,367.30 424.50,367.03 422.90,366.77 421.30,365.92 419.70,364.91 418.11,363.89 416.51,362.87 414.91,361.86 413.31,382.24 411.72,364.38 410.12,365.75 408.52,365.68 406.93,365.28 405.33,364.88 403.73,364.48 402.13,364.08 400.54,363.64 398.94,363.16 397.34,362.68 395.75,362.20 394.15,361.71 392.55,361.07 390.95,360.43 389.36,359.79 387.76,359.15 386.16,358.94 384.57,358.94 382.97,382.24 381.37,362.49 379.77,363.75 378.18,363.22 376.58,362.68 374.98,362.15 373.38,361.62 371.79,361.09 370.19,360.76 368.59,360.44 367.00,360.12 365.40,359.97 363.80,360.07 362.20,360.16 360.61,360.26 359.01,360.35 357.41,360.82 355.82,361.30 354.22,361.83 352.62,362.36 351.02,362.13 349.43,361.33 347.83,361.31 346.23,361.47 344.64,361.63 343.04,361.79 341.44,364.17 339.84,369.51 338.25,367.38 336.65,366.24 335.05,365.44 333.45,365.41 331.86,365.41 330.26,365.41 328.66,365.41 327.07,365.41 325.47,365.41 323.87,384.47 322.27,370.33 320.68,369.00 319.08,367.67 317.48,366.75 315.89,366.55 314.29,366.35 312.69,366.15 311.09,365.13 309.50,364.10 307.90,365.90 306.30,368.70 304.71,370.27 303.11,370.07 301.51,369.87 299.91,369.67 298.32,369.05 296.72,368.37 295.12,367.68 293.52,370.02 291.93,371.98 290.33,372.46 288.73,372.94 287.14,373.42 285.54,373.85 283.94,372.78 282.34,371.72 280.75,371.67 279.15,373.27 277.55,373.79 275.96,373.65 274.36,373.50 272.76,373.36 271.16,373.21 269.57,389.41 267.97,374.86 266.37,375.15 264.78,374.89 263.18,374.62 261.58,373.78 259.98,372.87 258.39,371.95 256.79,373.88 255.19,375.22 253.59,375.06 252.00,374.90 250.40,374.74 248.80,374.64 247.21,390.12 245.61,376.77 244.01,377.16 242.41,376.52 240.82,375.95 239.22,375.68 237.62,375.42 236.03,379.73 234.43,383.01 232.83,382.21 231.23,381.53 229.64,381.00 228.04,380.46 226.44,395.88 224.85,382.26 223.25,383.06 221.65,382.27 220.05,381.47 218.46,380.67 216.86,393.06 215.26,379.93 213.66,379.66 212.07,378.99 210.47,378.31 208.87,377.63 207.28,384.59 205.68,379.91 204.08,380.18 202.48,379.91 200.89,379.65 199.29,381.24 197.69,382.73 196.10,383.85 194.50,384.97 192.90,386.09 191.30,387.20 189.71,395.18 188.11,387.90 186.51,388.20 184.92,388.74 183.32,389.27 181.72,405.77 180.12,391.14 178.53,392.20 176.93,393.04 175.33,393.84 173.73,394.64 172.14,395.43 170.54,396.23 168.94,396.59 167.35,396.59 165.75,396.59 164.15,397.79 162.55,399.12 160.96,400.12 159.36,400.12 157.76,400.12 156.17,402.03 154.57,405.22 152.97,406.56 151.37,407.52 149.78,418.47 148.18,412.02 146.58,413.42 144.99,413.16 143.39,412.89 141.79,412.96 140.19,413.14 138.60,413.32 137.00,413.49 135.40,420.59 133.80,415.16 132.21,416.07 130.61,416.54 129.01,416.80 127.42,417.06 125.82,416.86 124.22,416.66 122.62,416.46 121.03,416.36 119.43,422.00" fill="#2b2bff"/>
<polyline points="119.43,686.47 121.03,678.00 122.62,678.03 124.22,678.57 125.82,679.10 127.42,678.89 129.01,677.62 130.61,676.75 132.21,677.55 133.80,677.22 135.40,680.83 137.00,673.57 138.60,673.03 140.19,675.02 141.79,674.30 143.39,671.50 144.99,671.20 146.58,671.52 148.18,670.71 149.78,679.41 151.37,667.51 152.97,665.66 154.57,663.80 156.17,661.28 157.76,657.13 159.36,653.34 160.96,653.98 162.55,654.62 164.15,653.32 165.75,651.96 167.35,652.76 168.94,652.77 170.54,651.17 172.14,650.77 173.73,650.51 175.33,647.72 176.93,647.17 178.53,649.17 180.12,649.93 181.72,671.65 183.32,650.38 184.92,651.69 186.51,653.68 188.11,653.43 189.71,663.88 191.30,652.06 192.90,650.69 194.50,649.09 196.10,647.75 197.69,648.81 199.29,647.42 200.89,645.29 202.48,643.55 204.08,644.75 205.68,644.75 207.28,651.18 208.87,641.25 210.47,646.05 212.07,650.84 213.66,653.65 215.26,655.51 216.86,683.65 218.46,658.17 220.05,658.74 221.65,659.11 223.25,664.59 224.85,659.64 226.44,675.18 228.04,656.50 229.64,655.94 231.23,655.72 232.83,655.49 234.43,655.41 236.03,664.59 237.62,655.41 239.22,658.67 240.82,662.66 242.41,663.01 244.01,657.41 245.61,657.41 247.21,686.36 248.80,657.41 250.40,658.93 252.00,660.53 253.59,659.37 255.19,657.24 256.79,655.52 258.39,658.08 259.98,660.63 261.58,660.94 263.18,660.94 264.78,660.70 266.37,659.64 267.97,660.35 269.57,684.94 271.16,662.18 272.76,662.57 274.36,662.84 275.96,662.90 277.55,661.83 279.15,660.77 280.75,660.37 282.34,660.64 283.94,660.90 285.54,660.94 287.14,661.30 288.73,665.56 290.33,666.11 291.93,665.47 293.52,665.84 295.12,667.03 296.72,665.58 298.32,663.39 299.91,661.19 301.51,660.05 303.11,662.18 304.71,659.69 306.30,664.16 307.90,668.63 309.50,665.46 311.09,668.93 312.69,672.93 314.29,675.00 315.89,672.34 317.48,669.67 319.08,667.95 320.68,666.75 322.27,667.38 323.87,691.30 325.47,669.21 327.07,670.30 328.66,671.44 330.26,672.58 331.86,672.94 333.45,672.94 335.05,672.97 336.65,673.77 338.25,675.71 339.84,680.91 341.44,683.93 343.04,684.73 344.64,685.52 346.23,686.32 347.83,686.90 349.43,684.77 351.02,682.64 352.62,680.85 354.22,679.52 355.82,678.19 357.41,678.60 359.01,679.53 360.61,679.00 362.20,682.09 363.80,684.05 365.40,681.03 367.00,684.23 368.59,686.17 370.19,684.58 371.79,682.98 373.38,681.78 374.98,682.58 376.58,682.85 378.18,682.32 379.77,681.78 381.37,681.05 382.97,702.12 384.57,679.46 386.16,678.66 387.76,677.86 389.36,678.65 390.95,681.45 392.55,683.07 394.15,682.09 395.75,677.30 397.34,675.99 398.94,677.19 400.54,676.11 402.13,677.48 403.73,681.95 405.33,684.96 406.93,684.16 408.52,685.80 410.12,689.80 411.72,689.47 413.31,704.24 414.91,685.82 416.51,685.01 418.11,684.74 419.70,684.47 421.30,686.86 422.90,688.34 424.50,686.75 426.09,687.67 427.69,688.06 429.29,683.27 430.88,684.94 432.48,687.67 434.08,689.91 435.68,691.02 437.27,689.16 438.87,687.30 440.47,685.93 442.06,684.86 443.66,683.80 445.26,689.62 446.86,692.02 448.45,694.41 450.05,694.38 451.65,691.19 453.24,691.18 454.84,692.78 456.44,694.35 458.04,693.82 459.63,693.28 461.23,692.90 462.83,692.76 464.43,692.63 466.02,692.50 467.62,692.36 469.22,692.24 470.81,692.24 472.41,692.24 474.01,692.24 475.61,692.38 477.20,692.64 478.80,692.91 480.40,692.09 481.99,691.11 483.59,690.53 485.19,691.33 486.79,692.13 488.38,692.70 489.98,693.10 491.58,693.50 493.17,693.82 494.77,691.95 496.37,690.09 497.97,689.40 499.56,690.60 501.16,694.67 502.76,698.52 504.36,697.45 505.95,696.39 507.55,698.38 509.15,700.11 510.74,697.45 512.34,700.17 513.94,702.01 515.54,700.41 517.13,698.84 518.73,700.44 520.33,701.01 521.92,698.35 523.52,699.29 525.12,700.57 526.72,702.29 528.31,704.21 529.91,704.65 531.51,703.59 533.10,702.52 534.70,704.71 536.30,707.32 537.90,707.64 539.49,707.96 541.09,704.89 542.69,701.75 544.29,702.74 545.88,721.41 547.48,704.74 549.08,705.63 550.67,706.43 552.27,704.48 553.87,701.82 555.47,699.98 557.06,703.18 558.66,706.07 560.26,708.47 561.85,710.87 563.45,713.26 565.05,715.32 566.65,717.19 568.24,717.39 569.84,717.59 571.44,717.79 573.03,717.89 574.63,717.89 576.23,727.77 577.83,717.89 579.42,717.09 581.02,716.93 582.62,718.93 584.22,720.13 585.81,720.39 587.41,720.66 589.01,723.30 590.60,722.42 592.20,721.87 593.80,724.75 595.40,727.62 596.99,726.60 598.59,725.38 600.19,722.12 601.78,724.03 603.38,725.94 604.98,727.86 606.58,729.78 608.17,729.44 609.77,728.80 611.37,728.59 612.96,728.59 614.56,725.70 616.16,722.51 617.76,725.41 619.35,731.00 620.95,727.86 622.55,724.03 624.15,722.49 625.74,721.85 627.34,722.99 628.94,725.86 630.53,727.13 632.13,724.57 633.73,722.21 635.33,721.89 636.92,721.57 638.52,722.93 640.12,724.32 641.71,724.00 643.31,723.68 644.91,723.36 646.51,723.04 648.10,720.30 649.70,716.47 651.30,715.09 652.89,716.36 654.49,717.08 656.09,716.28 657.69,716.95 659.28,718.15 660.88,714.95 662.48,711.76 664.08,712.19 665.67,715.42 667.27,716.61 668.87,718.26 670.46,720.49 672.06,722.16 673.66,721.80 675.26,721.45 676.85,721.09 678.45,721.12 680.05,722.31 681.64,722.94 683.24,722.94 684.84,722.94 686.44,722.94 688.03,721.66 689.63,720.29 691.23,718.92 692.82,720.51 694.42,722.64 696.02,723.58 697.62,719.59 699.21,715.60 700.81,714.29 702.41,715.24 704.01,715.22 705.60,713.23 707.20,712.35 708.80,712.35 710.39,712.04 711.99,711.63 713.59,710.83 715.19,711.62 716.78,716.95 718.38,716.71 719.98,717.12 721.57,717.43 723.17,724.24 724.77,714.23 726.37,711.62 727.96,708.43 729.56,706.07 731.16,703.83 732.75,704.98 734.35,707.91 735.95,710.82 737.55,709.22 739.14,707.62 740.74,706.03 742.34,704.55 743.94,707.34 745.53,709.33 747.13,709.01 748.73,708.79 750.32,710.38 751.92,715.77 753.52,709.17 755.12,707.23 756.71,704.36 758.31,703.62 759.91,707.77 761.50,711.43 763.10,710.37 764.70,709.30 766.30,708.36 767.89,707.56 769.49,706.76 771.09,706.17 772.68,705.64 774.28,705.40 775.88,707.00 777.48,708.59 779.07,708.73 780.67,707.34 782.27,705.94 783.87,704.54 785.46,704.73 787.06,704.99 788.66,705.89 790.25,708.29 791.85,711.53 793.45,715.53 795.05,717.29 796.64,718.35 798.24,719.47 799.84,721.07 801.43,722.67 803.03,723.29 804.63,722.76 806.23,722.22 807.82,722.77 809.42,723.56 811.02,724.36 812.61,725.16 814.21,725.96 815.81,726.76 817.41,726.24 819.00,724.91 820.60,723.57 822.20,724.50 823.80,725.50 825.39,726.50 826.99,727.58 828.59,728.78 830.18,728.12 831.78,726.52 833.38,726.36" fill="none" stroke="#d6d6ff" stroke-width="0.7" stroke-dasharray="2.6 1.1" stroke-linejoin="round"/>
<polyline points="119.43,596.47 121.03,592.24 122.62,593.04 124.22,594.64 125.82,594.77 127.42,594.37 129.01,593.97 130.61,593.57 132.21,593.17 133.80,592.71 135.40,595.77 137.00,591.65 138.60,591.32 140.19,591.06 141.79,590.73 143.39,589.93 144.99,589.70 146.58,590.50 148.18,589.73 149.78,596.47 151.37,586.00 152.97,585.13 154.57,584.34 156.17,583.08 157.76,580.68 159.36,578.29 160.96,576.81 162.55,575.85 164.15,574.89 165.75,573.93 167.35,572.78 168.94,570.91 170.54,569.05 172.14,567.19 173.73,565.32 175.33,563.46 176.93,561.48 178.53,559.92 180.12,560.98 181.72,572.47 183.32,559.44 184.92,559.30 186.51,559.70 188.11,558.87 189.71,567.53 191.30,556.79 192.90,555.99 194.50,555.19 196.10,554.40 197.69,553.42 199.29,552.36 200.89,551.29 202.48,551.03 204.08,550.76 205.68,550.40 207.28,553.41 208.87,549.34 210.47,549.59 212.07,550.19 213.66,550.79 215.26,551.29 216.86,567.53 218.46,551.29 220.05,551.02 221.65,550.49 223.25,549.96 224.85,549.37 226.44,561.88 228.04,548.17 229.64,548.02 231.23,548.82 232.83,549.62 234.43,550.42 236.03,551.22 237.62,550.16 239.22,548.90 240.82,547.82 242.41,547.31 244.01,546.77 245.61,545.63 247.21,565.88 248.80,543.35 250.40,541.40 252.00,539.54 253.59,538.30 255.19,537.05 256.79,535.81 258.39,535.24 259.98,537.30 261.58,539.35 263.18,541.27 264.78,542.06 266.37,542.86 267.97,542.25 269.57,560.24 271.16,537.68 272.76,537.89 274.36,538.14 275.96,538.29 277.55,537.89 279.15,537.49 280.75,537.09 282.34,537.44 283.94,538.24 285.54,539.03 287.14,539.90 288.73,541.50 290.33,542.15 291.93,540.75 293.52,539.35 295.12,537.96 296.72,538.12 298.32,538.71 299.91,539.31 301.51,539.90 303.11,540.43 304.71,540.96 306.30,542.44 307.90,542.16 309.50,535.23 311.09,535.58 312.69,536.37 314.29,537.17 315.89,538.05 317.48,539.05 319.08,540.05 320.68,541.05 322.27,540.98 323.87,563.77 325.47,540.52 327.07,541.00 328.66,541.69 330.26,542.37 331.86,541.86 333.45,542.09 335.05,544.64 336.65,547.41 338.25,551.40 339.84,553.28 341.44,551.68 343.04,550.09 344.64,549.21 346.23,548.61 347.83,548.02 349.43,547.45 351.02,547.06 352.62,547.23 354.22,548.19 355.82,549.15 357.41,550.10 359.01,551.05 360.61,546.87 362.20,546.40 363.80,547.68 365.40,548.10 367.00,547.57 368.59,547.04 370.19,547.60 371.79,548.39 373.38,549.24 374.98,550.30 376.58,551.37 378.18,551.68 379.77,551.28 381.37,550.33 382.97,572.35 384.57,548.04 386.16,547.44 387.76,547.12 389.36,547.08 390.95,547.40 392.55,547.72 394.15,548.04 395.75,548.38 397.34,549.38 398.94,550.37 400.54,551.37 402.13,552.79 403.73,554.66 405.33,556.52 406.93,558.38 408.52,560.25 410.12,561.36 411.72,559.17 413.31,576.59 414.91,554.77 416.51,553.83 418.11,553.56 419.70,553.30 421.30,554.36 422.90,555.42 424.50,556.03 426.09,555.76 427.69,555.49 429.29,556.15 430.88,557.22 432.48,558.26 434.08,558.79 435.68,559.32 437.27,559.57 438.87,559.37 440.47,559.17 442.06,558.97 443.66,560.31 445.26,561.90 446.86,563.30 448.45,563.90 450.05,564.50 451.65,565.10 453.24,566.36 454.84,567.96 456.44,567.64 458.04,567.11 459.63,566.64 461.23,566.38 462.83,566.11 464.43,565.81 466.02,565.49 467.62,565.17 469.22,564.85 470.81,564.64 472.41,564.90 474.01,565.17 475.61,565.44 477.20,565.70 478.80,565.97 480.40,566.08 481.99,566.17 483.59,566.24 485.19,566.24 486.79,566.24 488.38,566.46 489.98,566.86 491.58,567.26 493.17,567.64 494.77,567.37 496.37,567.11 497.97,567.55 499.56,569.15 501.16,570.75 502.76,571.32 504.36,571.52 505.95,571.72 507.55,571.92 509.15,572.12 510.74,572.32 512.34,572.52 513.94,572.72 515.54,572.92 517.13,573.12 518.73,573.39 520.33,574.19 521.92,575.70 523.52,578.50 525.12,580.75 526.72,582.61 528.31,584.47 529.91,584.34 531.51,584.07 533.10,584.19 534.70,585.25 536.30,586.32 537.90,586.71 539.49,586.71 541.09,586.71 542.69,584.75 544.29,583.52 545.88,605.06 547.48,586.71 549.08,586.74 550.67,585.54 552.27,584.34 553.87,583.18 555.47,583.18 557.06,583.18 558.66,583.18 560.26,583.96 561.85,585.56 563.45,587.16 565.05,588.75 566.65,590.27 568.24,590.75 569.84,591.23 571.44,591.71 573.03,592.19 574.63,593.39 576.23,613.53 577.83,600.12 579.42,600.12 581.02,600.12 582.62,600.12 584.22,599.20 585.81,597.20 587.41,598.07 589.01,600.20 590.60,602.31 592.20,603.90 593.80,605.50 595.40,606.06 596.99,604.99 598.59,603.93 600.19,616.47 601.78,609.09 603.38,610.00 604.98,610.91 606.58,611.62 608.17,611.88 609.77,612.15 611.37,612.24 612.96,612.24 614.56,612.17 616.16,608.98 617.76,609.27 619.35,617.89 620.95,612.92 622.55,613.41 624.15,613.01 625.74,612.61 627.34,612.16 628.94,610.88 630.53,609.60 632.13,608.32 633.73,607.04 635.33,606.33 636.92,605.93 638.52,605.53 640.12,605.24 641.71,605.77 643.31,606.30 644.91,605.86 646.51,604.26 648.10,602.67 649.70,601.07 651.30,606.59 652.89,599.92 654.49,599.39 656.09,598.86 657.69,598.32 659.28,597.26 660.88,595.86 662.48,594.46 664.08,593.51 665.67,596.47 667.27,595.27 668.87,595.51 670.46,597.64 672.06,599.77 673.66,600.24 675.26,600.24 676.85,600.37 678.45,601.44 680.05,602.50 681.64,603.19 683.24,603.45 684.84,603.72 686.44,603.11 688.03,602.31 689.63,601.65 691.23,601.65 692.82,601.65 694.42,601.65 696.02,601.65 697.62,601.65 699.21,600.96 700.81,600.16 702.41,599.36 704.01,598.56 705.60,598.48 707.20,599.28 708.80,600.07 710.39,600.87 711.99,598.20 713.59,600.99 715.19,602.93 716.78,602.44 718.38,601.96 719.98,601.11 721.57,600.13 723.17,613.77 724.77,598.53 726.37,596.89 727.96,595.04 729.56,593.85 731.16,592.65 732.75,591.45 734.35,591.79 735.95,592.59 737.55,593.39 739.14,594.38 740.74,595.98 742.34,597.57 743.94,599.17 745.53,600.77 747.13,600.02 748.73,598.74 750.32,598.51 751.92,613.77 753.52,599.43 755.12,598.62 756.71,596.63 758.31,597.11 759.91,598.44 761.50,599.70 763.10,600.30 764.70,600.90 766.30,601.50 767.89,600.88 769.49,599.57 771.09,603.88 772.68,598.96 774.28,599.76 775.88,600.56 777.48,601.36 779.07,601.38 780.67,600.58 782.27,600.64 783.87,601.04 785.46,601.44 787.06,602.11 788.66,603.97 790.25,605.83 791.85,607.77 793.45,609.76 795.05,610.44 796.64,610.71 798.24,611.30 799.84,614.49 801.43,617.69 803.03,620.03 804.63,621.36 806.23,622.69 807.82,622.94 809.42,622.94 811.02,622.94 812.61,623.09 814.21,623.62 815.81,624.15 817.41,625.35 819.00,629.30 820.60,625.77 822.20,625.81 823.80,626.34 825.39,626.88 826.99,626.66 828.59,625.46 830.18,624.27 831.78,623.07 833.38,622.35" fill="none" stroke="#a8a8ff" stroke-width="1.0" stroke-dasharray="3.8 1.7" stroke-linejoin="round"/>
<polyline points="119.43,531.89 121.03,529.77 122.62,529.87 124.22,530.07 125.82,530.27 127.42,530.47 129.01,530.09 130.61,529.69 132.21,529.29 133.80,528.89 135.40,528.49 137.00,528.15 138.60,527.83 140.19,527.51 141.79,527.19 143.39,527.14 144.99,527.94 146.58,528.74 148.18,526.99 149.78,533.30 151.37,520.86 152.97,519.72 154.57,518.58 156.17,516.85 157.76,514.84 159.36,514.57 160.96,514.30 162.55,512.44 164.15,510.04 165.75,508.43 167.35,506.84 168.94,505.50 170.54,504.70 172.14,503.46 173.73,501.86 175.33,500.26 176.93,499.03 178.53,498.46 180.12,501.66 181.72,514.94 183.32,498.71 184.92,498.71 186.51,498.71 188.11,498.71 189.71,506.47 191.30,498.56 192.90,497.76 194.50,496.96 196.10,495.41 197.69,493.22 199.29,491.02 200.89,488.83 202.48,488.63 204.08,488.43 205.68,488.23 207.28,486.63 208.87,483.88 210.47,483.88 212.07,483.88 213.66,484.77 215.26,485.73 216.86,496.59 218.46,483.88 220.05,483.88 221.65,483.88 223.25,483.88 224.85,482.86 226.44,495.18 228.04,480.46 229.64,479.82 231.23,480.35 232.83,480.88 234.43,481.33 236.03,481.73 237.62,480.91 239.22,479.96 240.82,479.00 242.41,478.05 244.01,477.09 245.61,475.91 247.21,495.77 248.80,473.24 250.40,472.80 252.00,472.38 253.59,471.91 255.19,471.43 256.79,470.95 258.39,470.47 259.98,471.17 261.58,472.23 263.18,473.21 264.78,473.47 266.37,473.74 267.97,472.71 269.57,489.41 271.16,468.35 272.76,468.81 274.36,469.26 275.96,469.59 277.55,469.19 279.15,468.79 280.75,468.39 282.34,468.48 283.94,468.88 285.54,469.28 287.14,469.69 288.73,470.23 290.33,470.76 291.93,470.27 293.52,468.45 295.12,466.62 296.72,465.64 298.32,466.33 299.91,467.01 301.51,467.68 303.11,468.28 304.71,468.87 306.30,469.47 307.90,468.23 309.50,466.24 311.09,466.87 312.69,467.67 314.29,468.47 315.89,469.10 317.48,469.50 319.08,469.90 320.68,470.30 322.27,470.12 323.87,490.12 325.47,469.65 327.07,469.65 328.66,469.65 330.26,469.65 331.86,469.65 333.45,470.60 335.05,471.80 336.65,473.00 338.25,473.67 339.84,472.88 341.44,472.47 343.04,472.47 344.64,472.47 346.23,472.47 347.83,473.05 349.43,473.64 351.02,474.24 352.62,474.72 354.22,475.04 355.82,475.36 357.41,475.68 359.01,475.99 360.61,473.26 362.20,471.27 363.80,471.67 365.40,472.07 367.00,472.47 368.59,472.73 370.19,472.93 371.79,473.13 373.38,473.40 374.98,473.99 376.58,474.59 378.18,475.19 379.77,476.76 381.37,477.65 382.97,496.59 384.57,474.06 386.16,474.66 387.76,475.26 389.36,475.86 390.95,476.03 392.55,475.87 394.15,475.71 395.75,475.55 397.34,475.52 398.94,476.32 400.54,477.12 402.13,478.31 403.73,479.91 405.33,481.50 406.93,482.88 408.52,484.21 410.12,485.00 411.72,483.40 413.31,503.65 414.91,480.40 416.51,480.93 418.11,481.47 419.70,482.00 421.30,482.50 422.90,482.77 424.50,483.03 426.09,483.30 427.69,483.57 429.29,483.83 430.88,484.01 432.48,484.17 434.08,484.33 435.68,484.49 437.27,484.71 438.87,485.03 440.47,485.35 442.06,485.67 443.66,485.99 445.26,486.78 446.86,487.57 448.45,488.37 450.05,489.17 451.65,489.71 453.24,490.03 454.84,490.35 456.44,490.67 458.04,490.84 459.63,490.04 461.23,489.53 462.83,489.53 464.43,489.53 466.02,489.53 467.62,489.53 469.22,489.53 470.81,489.53 472.41,489.53 474.01,489.53 475.61,489.53 477.20,489.53 478.80,489.53 480.40,489.11 481.99,488.62 483.59,488.41 485.19,489.21 486.79,490.01 488.38,490.24 489.98,490.04 491.58,489.84 493.17,489.67 494.77,490.20 496.37,490.73 497.97,491.52 499.56,492.72 501.16,493.92 502.76,495.11 504.36,495.57 505.95,495.89 507.55,496.21 509.15,496.52 510.74,497.05 512.34,497.85 513.94,498.65 515.54,499.45 517.13,499.82 518.73,500.14 520.33,500.46 521.92,500.77 523.52,501.70 525.12,503.30 526.72,504.89 528.31,505.72 529.91,506.39 531.51,507.06 533.10,507.72 534.70,508.39 536.30,508.98 537.90,509.52 539.49,510.05 541.09,509.43 542.69,508.97 544.29,511.63 545.88,536.24 547.48,514.50 549.08,514.31 550.67,512.98 552.27,511.65 553.87,512.02 555.47,512.55 557.06,513.03 558.66,513.35 560.26,513.66 561.85,513.98 563.45,514.30 565.05,515.02 566.65,515.82 568.24,516.62 569.84,517.18 571.44,517.18 573.03,517.18 574.63,518.74 576.23,543.30 577.83,523.53 579.42,523.73 581.02,523.93 582.62,524.13 584.22,523.87 585.81,523.07 587.41,522.27 589.01,523.42 590.60,525.01 592.20,526.38 593.80,526.54 595.40,526.70 596.99,526.86 598.59,527.02 600.19,540.71 601.78,529.07 603.38,528.78 604.98,529.58 606.58,530.38 608.17,530.74 609.77,530.54 611.37,530.34 612.96,530.14 614.56,529.88 616.16,529.61 617.76,530.02 619.35,540.71 620.95,534.81 622.55,535.41 624.15,534.81 625.74,534.21 627.34,533.59 628.94,532.63 630.53,531.67 632.13,530.71 633.73,529.75 635.33,529.52 636.92,529.68 638.52,529.84 640.12,530.00 641.71,530.03 643.31,529.63 644.91,529.23 646.51,528.83 648.10,528.85 649.70,529.05 651.30,534.36 652.89,529.29 654.49,528.49 656.09,527.69 657.69,526.90 659.28,525.60 660.88,524.01 662.48,522.41 664.08,521.07 665.67,522.67 667.27,524.27 668.87,525.87 670.46,527.24 672.06,528.44 673.66,529.64 675.26,530.83 676.85,531.63 678.45,536.47 680.05,533.23 681.64,532.95 683.24,531.49 684.84,530.03 686.44,528.56 688.03,527.10 689.63,525.88 691.23,525.88 692.82,525.88 694.42,525.88 696.02,526.14 697.62,526.54 699.21,526.94 700.81,527.36 702.41,527.95 704.01,528.55 705.60,529.15 707.20,529.41 708.80,529.41 710.39,529.41 711.99,529.53 713.59,532.86 715.19,532.30 716.78,531.73 718.38,531.16 719.98,530.29 721.57,529.61 723.17,545.06 724.77,530.14 726.37,529.43 727.96,528.15 729.56,526.17 731.16,523.24 732.75,520.31 734.35,520.27 735.95,521.06 737.55,521.86 739.14,522.66 740.74,523.46 742.34,525.01 743.94,527.40 745.53,527.93 747.13,527.67 748.73,527.34 750.32,526.11 751.92,542.24 753.52,527.38 755.12,527.41 756.71,527.41 758.31,527.41 759.91,527.41 761.50,529.37 763.10,530.90 764.70,530.70 766.30,530.50 767.89,530.30 769.49,529.44 771.09,532.10 772.68,532.35 774.28,532.35 775.88,532.35 777.48,532.35 779.07,532.16 780.67,531.76 782.27,531.36 783.87,530.96 785.46,529.74 787.06,533.08 788.66,537.08 790.25,540.30 791.85,542.43 793.45,544.56 795.05,546.89 796.64,549.29 798.24,550.41 799.84,551.53 801.43,552.65 803.03,553.76 804.63,554.70 806.23,555.50 807.82,556.29 809.42,557.06 811.02,557.06 812.61,557.06 814.21,557.06 815.81,557.67 817.41,558.86 819.00,561.14 820.60,562.97 822.20,563.61 823.80,564.23 825.39,564.76 826.99,565.29 828.59,564.80 830.18,563.47 831.78,562.14 833.38,560.81" fill="none" stroke="#7a7aff" stroke-width="1.4" stroke-dasharray="5.1 2.2" stroke-linejoin="round"/>
<polyline points="119.43,422.00 121.03,416.36 122.62,416.46 124.22,416.66 125.82,416.86 127.42,417.06 129.01,416.80 130.61,416.54 132.21,416.07 133.80,415.16 135.40,420.59 137.00,413.49 138.60,413.32 140.19,413.14 141.79,412.96 143.39,412.89 144.99,413.16 146.58,413.42 148.18,412.02 149.78,418.47 151.37,407.52 152.97,406.56 154.57,405.22 156.17,402.03 157.76,400.12 159.36,400.12 160.96,400.12 162.55,399.12 164.15,397.79 165.75,396.59 167.35,396.59 168.94,396.59 170.54,396.23 172.14,395.43 173.73,394.64 175.33,393.84 176.93,393.04 178.53,392.20 180.12,391.14 181.72,405.77 183.32,389.27 184.92,388.74 186.51,388.20 188.11,387.90 189.71,395.18 191.30,387.20 192.90,386.09 194.50,384.97 196.10,383.85 197.69,382.73 199.29,381.24 200.89,379.65 202.48,379.91 204.08,380.18 205.68,379.91 207.28,384.59 208.87,377.63 210.47,378.31 212.07,378.99 213.66,379.66 215.26,379.93 216.86,393.06 218.46,380.67 220.05,381.47 221.65,382.27 223.25,383.06 224.85,382.26 226.44,395.88 228.04,380.46 229.64,381.00 231.23,381.53 232.83,382.21 234.43,383.01 236.03,379.73 237.62,375.42 239.22,375.68 240.82,375.95 242.41,376.52 244.01,377.16 245.61,376.77 247.21,390.12 248.80,374.64 250.40,374.74 252.00,374.90 253.59,375.06 255.19,375.22 256.79,373.88 258.39,371.95 259.98,372.87 261.58,373.78 263.18,374.62 264.78,374.89 266.37,375.15 267.97,374.86 269.57,389.41 271.16,373.21 272.76,373.36 274.36,373.50 275.96,373.65 277.55,373.79 279.15,373.27 280.75,371.67 282.34,371.72 283.94,372.78 285.54,373.85 287.14,373.42 288.73,372.94 290.33,372.46 291.93,371.98 293.52,370.02 295.12,367.68 296.72,368.37 298.32,369.05 299.91,369.67 301.51,369.87 303.11,370.07 304.71,370.27 306.30,368.70 307.90,365.90 309.50,364.10 311.09,365.13 312.69,366.15 314.29,366.35 315.89,366.55 317.48,366.75 319.08,367.67 320.68,369.00 322.27,370.33 323.87,384.47 325.47,365.41 327.07,365.41 328.66,365.41 330.26,365.41 331.86,365.41 333.45,365.41 335.05,365.44 336.65,366.24 338.25,367.38 339.84,369.51 341.44,364.17 343.04,361.79 344.64,361.63 346.23,361.47 347.83,361.31 349.43,361.33 351.02,362.13 352.62,362.36 354.22,361.83 355.82,361.30 357.41,360.82 359.01,360.35 360.61,360.26 362.20,360.16 363.80,360.07 365.40,359.97 367.00,360.12 368.59,360.44 370.19,360.76 371.79,361.09 373.38,361.62 374.98,362.15 376.58,362.68 378.18,363.22 379.77,363.75 381.37,362.49 382.97,382.24 384.57,358.94 386.16,358.94 387.76,359.15 389.36,359.79 390.95,360.43 392.55,361.07 394.15,361.71 395.75,362.20 397.34,362.68 398.94,363.16 400.54,363.64 402.13,364.08 403.73,364.48 405.33,364.88 406.93,365.28 408.52,365.68 410.12,365.75 411.72,364.38 413.31,382.24 414.91,361.86 416.51,362.87 418.11,363.89 419.70,364.91 421.30,365.92 422.90,366.77 424.50,367.03 426.09,367.30 427.69,367.48 429.29,367.60 430.88,367.72 432.48,367.84 434.08,367.95 435.68,368.05 437.27,368.04 438.87,367.84 440.47,367.64 442.06,367.44 443.66,367.82 445.26,368.30 446.86,368.78 448.45,369.26 450.05,369.70 451.65,370.10 453.24,370.50 454.84,370.90 456.44,371.09 458.04,371.25 459.63,371.41 461.23,371.57 462.83,371.84 464.43,372.24 466.02,372.64 467.62,373.04 469.22,372.12 470.81,371.12 472.41,370.12 474.01,369.69 475.61,370.09 477.20,370.49 478.80,370.89 480.40,370.41 481.99,369.80 483.59,369.18 485.19,368.57 486.79,368.12 488.38,367.86 489.98,367.61 491.58,367.35 493.17,367.13 494.77,367.82 496.37,368.52 497.97,369.33 499.56,370.32 501.16,371.32 502.76,372.32 504.36,373.28 505.95,374.24 507.55,375.20 509.15,376.16 510.74,376.78 512.34,376.94 513.94,377.10 515.54,377.26 517.13,377.42 518.73,378.22 520.33,379.02 521.92,379.70 523.52,380.18 525.12,380.66 526.72,381.14 528.31,381.62 529.91,381.15 531.51,380.62 533.10,380.29 534.70,380.49 536.30,380.69 537.90,380.89 539.49,380.64 541.09,380.24 542.69,379.85 544.29,379.76 545.88,400.71 547.48,381.89 549.08,382.28 550.67,382.15 552.27,382.01 553.87,381.88 555.47,381.75 557.06,381.61 558.66,381.45 560.26,381.29 561.85,381.13 563.45,380.97 565.05,380.61 566.65,380.21 568.24,379.81 569.84,379.17 571.44,377.97 573.03,378.91 574.63,381.70 576.23,402.12 577.83,382.35 579.42,382.20 581.02,382.04 582.62,381.88 584.22,381.72 585.81,381.83 587.41,382.15 589.01,382.47 590.60,382.79 592.20,383.15 593.80,383.68 595.40,384.21 596.99,384.27 598.59,383.87 600.19,395.77 601.78,385.75 603.38,385.59 604.98,385.43 606.58,385.27 608.17,385.09 609.77,384.89 611.37,384.69 612.96,384.49 614.56,384.23 616.16,383.97 617.76,384.24 619.35,394.36 620.95,387.96 622.55,388.71 624.15,388.71 625.74,388.71 627.34,388.71 628.94,388.71 630.53,388.47 632.13,387.67 633.73,386.87 635.33,388.39 636.92,391.19 638.52,391.06 640.12,390.53 641.71,390.03 643.31,389.63 644.91,389.23 646.51,388.83 648.10,388.71 649.70,388.71 651.30,397.89 652.89,393.07 654.49,393.86 656.09,393.89 657.69,392.70 659.28,391.13 660.88,389.33 662.48,387.53 664.08,386.11 665.67,388.91 667.27,390.99 668.87,391.53 670.46,392.06 672.06,392.41 673.66,392.68 675.26,392.95 676.85,393.21 678.45,397.18 680.05,393.75 681.64,394.01 683.24,394.28 684.84,393.79 686.44,392.99 688.03,392.19 689.63,391.71 691.23,392.78 692.82,393.84 694.42,393.66 696.02,392.33 697.62,391.00 699.21,391.98 700.81,393.31 702.41,394.47 704.01,395.00 705.60,395.54 707.20,394.42 708.80,392.02 710.39,389.63 711.99,390.63 713.59,391.96 715.19,392.83 716.78,392.38 718.38,391.94 719.98,390.79 721.57,390.11 723.17,405.18 724.77,393.30 726.37,393.18 727.96,392.06 729.56,390.94 731.16,389.82 732.75,389.28 734.35,390.88 735.95,392.47 737.55,391.87 739.14,391.27 740.74,390.67 742.34,392.23 743.94,396.22 745.53,396.48 747.13,395.15 748.73,393.89 750.32,394.09 751.92,412.24 753.52,394.49 755.12,394.18 756.71,393.38 758.31,392.58 759.91,391.78 761.50,396.06 763.10,399.32 764.70,398.32 766.30,397.33 767.89,396.33 769.49,397.26 771.09,399.12 772.68,400.97 774.28,402.17 775.88,403.37 777.48,404.56 779.07,404.53 780.67,403.20 782.27,401.87 783.87,403.20 785.46,405.07 787.06,407.17 788.66,410.37 790.25,413.40 791.85,416.19 793.45,420.02 795.05,424.41 796.64,424.59 798.24,424.19 799.84,423.79 801.43,424.26 803.03,426.39 804.63,428.52 806.23,429.92 807.82,430.98 809.42,431.98 811.02,431.38 812.61,430.78 814.21,430.18 815.81,430.69 817.41,432.29 819.00,438.00 820.60,439.23 822.20,439.43 823.80,439.63 825.39,439.20 826.99,437.40 828.59,435.61 830.18,433.81 831.78,432.85 833.38,432.12" fill="none" stroke="#6c6cff" stroke-width="1.8" stroke-dasharray="6.5 2.8" stroke-linejoin="round"/>
<polyline points="119.43,78.59 121.03,78.58 122.62,78.56 124.22,78.54 125.82,78.53 127.42,78.51 129.01,78.49 130.61,78.47 132.21,78.48 133.80,78.49 135.40,78.50 137.00,78.51 138.60,78.52 140.19,78.53 141.79,78.54 143.39,78.54 144.99,78.55 146.58,78.56 148.18,78.57 149.78,80.00 151.37,78.55 152.97,78.45 154.57,78.35 156.17,78.26 157.76,78.16 159.36,78.06 160.96,77.96 162.55,77.86 164.15,77.76 165.75,77.67 167.35,77.58 168.94,77.50 170.54,77.42 172.14,77.34 173.73,77.26 175.33,77.18 176.93,77.10 178.53,77.09 180.12,77.21 181.72,80.29 183.32,77.46 184.92,77.34 186.51,77.21 188.11,77.09 189.71,76.96 191.30,76.83 192.90,76.71 194.50,76.58 196.10,76.45 197.69,76.38 199.29,76.32 200.89,76.27 202.48,76.22 204.08,76.16 205.68,76.11 207.28,76.06 208.87,76.06 210.47,76.06 212.07,76.06 213.66,76.06 215.26,76.06 216.86,78.53 218.46,76.06 220.05,76.00 221.65,75.95 223.25,75.89 224.85,75.83 226.44,78.18 228.04,75.72 229.64,75.66 231.23,75.60 232.83,75.53 234.43,75.47 236.03,75.41 237.62,75.35 239.22,75.29 240.82,75.23 242.41,75.17 244.01,75.11 245.61,75.06 247.21,79.17 248.80,74.94 250.40,74.94 252.00,74.94 253.59,74.94 255.19,74.94 256.79,74.94 258.39,74.94 259.98,74.94 261.58,75.01 263.18,75.09 264.78,75.17 266.37,75.25 267.97,75.14 269.57,79.17 271.16,74.59 272.76,74.59 274.36,74.59 275.96,74.59 277.55,74.59 279.15,74.59 280.75,74.59 282.34,74.64 283.94,74.72 285.54,74.80 287.14,74.88 288.73,74.97 290.33,75.10 291.93,75.23 293.52,74.96 295.12,74.36 296.72,74.23 298.32,74.23 299.91,74.22 301.51,74.30 303.11,74.38 304.71,74.46 306.30,74.45 307.90,76.29 309.50,73.50 311.09,73.55 312.69,73.64 314.29,73.73 315.89,73.82 317.48,73.91 319.08,74.00 320.68,74.08 322.27,74.17 323.87,78.76 325.47,73.13 327.07,73.17 328.66,73.21 330.26,73.26 331.86,73.30 333.45,73.35 335.05,73.39 336.65,73.44 338.25,73.34 339.84,74.53 341.44,72.41 343.04,72.48 344.64,72.54 346.23,72.61 347.83,72.67 349.43,72.73 351.02,72.80 352.62,72.86 354.22,72.93 355.82,72.99 357.41,73.05 359.01,73.11 360.61,72.59 362.20,72.38 363.80,72.42 365.40,72.47 367.00,72.52 368.59,72.57 370.19,72.61 371.79,72.66 373.38,72.71 374.98,72.75 376.58,72.80 378.18,72.85 379.77,72.89 381.37,72.94 382.97,76.47 384.57,72.35 386.16,72.35 387.76,72.35 389.36,72.35 390.95,72.35 392.55,72.35 394.15,72.35 395.75,72.35 397.34,72.35 398.94,72.35 400.54,72.35 402.13,72.35 403.73,72.35 405.33,72.35 406.93,72.35 408.52,72.35 410.12,72.35 411.72,72.23 413.31,74.71 414.91,71.83 416.51,71.76 418.11,71.76 419.70,71.79 421.30,71.84 422.90,71.89 424.50,71.95 426.09,72.00 427.69,72.05 429.29,72.11 430.88,72.16 432.48,72.21 434.08,72.27 435.68,72.32 437.27,72.37 438.87,72.40 440.47,72.43 442.06,72.46 443.66,72.49 445.26,72.53 446.86,72.56 448.45,72.59 450.05,72.62 451.65,72.65 453.24,72.68 454.84,72.72 456.44,72.75 458.04,72.78 459.63,72.81 461.23,72.84 462.83,72.88 464.43,72.91 466.02,72.94 467.62,72.97 469.22,73.00 470.81,73.04 472.41,73.07 474.01,73.10 475.61,73.13 477.20,73.16 478.80,73.16 480.40,73.14 481.99,73.12 483.59,73.10 485.19,73.08 486.79,73.06 488.38,73.04 489.98,73.01 491.58,72.99 493.17,72.97 494.77,72.95 496.37,72.94 497.97,72.94 499.56,72.94 501.16,72.94 502.76,72.94 504.36,72.94 505.95,72.94 507.55,72.94 509.15,72.94 510.74,72.94 512.34,72.94 513.94,72.94 515.54,72.94 517.13,72.94 518.73,72.94 520.33,73.13 521.92,73.07 523.52,73.02 525.12,72.96 526.72,72.91 528.31,72.85 529.91,72.79 531.51,72.74 533.10,72.68 534.70,72.63 536.30,72.57 537.90,72.52 539.49,72.46 541.09,72.40 542.69,72.38 544.29,72.70 545.88,75.29 547.48,73.34 549.08,73.50 550.67,73.42 552.27,73.34 553.87,73.26 555.47,73.18 557.06,73.10 558.66,73.02 560.26,72.94 561.85,72.86 563.45,72.78 565.05,72.70 566.65,72.62 568.24,72.54 569.84,72.46 571.44,72.38 573.03,72.35 574.63,72.35 576.23,75.06 577.83,72.35 579.42,72.35 581.02,72.35 582.62,72.35 584.22,72.35 585.81,72.35 587.41,72.35 589.01,72.35 590.60,72.35 592.20,72.35 593.80,72.35 595.40,72.35 596.99,72.45 598.59,72.56 600.19,73.88 601.78,72.76 603.38,72.87 604.98,72.97 606.58,73.07 608.17,73.18 609.77,73.28 611.37,73.39 612.96,73.49 614.56,73.59 616.16,73.70 617.76,73.80 619.35,73.92 620.95,74.08 622.55,74.24 624.15,74.40 625.74,74.56 627.34,74.72 628.94,74.88 630.53,75.04 632.13,74.95 633.73,74.83 635.33,74.71 636.92,74.59 638.52,74.46 640.12,74.34 641.71,74.22 643.31,74.09 644.91,73.97 646.51,73.93 648.10,74.09 649.70,74.25 651.30,74.41 652.89,74.57 654.49,74.71 656.09,74.71 657.69,74.71 659.28,74.71 660.88,74.71 662.48,74.71 664.08,74.71 665.67,74.71 667.27,74.83 668.87,74.99 670.46,75.15 672.06,75.31 673.66,75.47 675.26,75.63 676.85,75.79 678.45,75.85 680.05,75.77 681.64,75.69 683.24,75.61 684.84,75.53 686.44,75.45 688.03,75.37 689.63,75.30 691.23,75.38 692.82,75.46 694.42,75.54 696.02,75.62 697.62,75.70 699.21,75.78 700.81,75.86 702.41,75.85 704.01,75.79 705.60,75.74 707.20,75.69 708.80,75.63 710.39,75.58 711.99,75.53 713.59,75.47 715.19,75.42 716.78,75.37 718.38,75.31 719.98,75.29 721.57,75.29 723.17,75.29 724.77,75.29 726.37,75.29 727.96,75.29 729.56,75.29 731.16,75.33 732.75,75.45 734.35,75.58 735.95,75.71 737.55,75.84 739.14,75.96 740.74,76.09 742.34,76.22 743.94,76.38 745.53,76.54 747.13,76.70 748.73,76.86 750.32,77.01 751.92,78.82 753.52,77.33 755.12,77.41 756.71,77.41 758.31,77.41 759.91,77.41 761.50,77.41 763.10,77.41 764.70,77.41 766.30,77.41 767.89,77.41 769.49,77.41 771.09,77.41 772.68,77.41 774.28,77.41 775.88,77.41 777.48,77.41 779.07,77.37 780.67,77.33 782.27,77.28 783.87,77.23 785.46,77.18 787.06,77.13 788.66,77.09 790.25,76.99 791.85,76.83 793.45,76.67 795.05,76.51 796.64,76.35 798.24,76.19 799.84,76.03 801.43,75.87 803.03,75.66 804.63,75.68 806.23,75.71 807.82,75.74 809.42,75.76 811.02,75.79 812.61,75.82 814.21,75.84 815.81,75.87 817.41,75.90 819.00,75.92 820.60,75.95 822.20,75.98 823.80,76.00 825.39,76.03 826.99,76.06 828.59,76.08 830.18,76.11 831.78,76.14 833.38,76.14" fill="none" stroke="#1414a4" stroke-width="1.0" stroke-dasharray="3.0 1.0" stroke-linejoin="round"/>
<polyline points="119.43,103.29 121.03,94.47 122.62,94.92 124.22,96.51 125.82,97.05 127.42,97.21 129.01,97.71 130.61,98.08 132.21,96.75 133.80,98.33 135.40,101.17 137.00,94.62 138.60,95.76 140.19,96.17 141.79,96.48 143.39,96.36 144.99,96.05 146.58,96.26 148.18,96.60 149.78,105.05 151.37,93.12 152.97,93.28 154.57,93.20 156.17,92.00 157.76,91.62 159.36,92.42 160.96,92.96 162.55,93.36 164.15,91.31 165.75,89.30 167.35,90.50 168.94,91.29 170.54,91.26 172.14,88.86 173.73,87.25 175.33,88.05 176.93,87.30 178.53,86.41 180.12,86.64 181.72,95.47 183.32,86.64 184.92,86.64 186.51,86.64 188.11,86.20 189.71,94.76 191.30,84.12 192.90,83.82 194.50,83.52 196.10,83.22 197.69,82.98 199.29,82.78 200.89,82.59 202.48,82.40 204.08,82.31 205.68,82.22 207.28,88.06 208.87,82.06 210.47,82.06 212.07,82.06 213.66,82.06 215.26,82.06 216.86,89.11 218.46,82.06 220.05,82.25 221.65,82.45 223.25,82.65 224.85,82.59 226.44,90.53 228.04,81.79 229.64,81.70 231.23,81.70 232.83,81.70 234.43,81.63 236.03,83.47 237.62,81.03 239.22,82.00 240.82,82.00 242.41,82.00 244.01,82.00 245.61,81.84 247.21,89.05 248.80,81.30 250.40,81.36 252.00,81.43 253.59,81.51 255.19,81.58 256.79,81.64 258.39,81.59 259.98,81.53 261.58,81.48 263.18,81.43 264.78,81.37 266.37,81.32 267.97,81.14 269.57,86.94 271.16,80.63 272.76,80.79 274.36,80.95 275.96,81.11 277.55,81.27 279.15,81.20 280.75,82.35 282.34,80.97 283.94,81.01 285.54,81.11 287.14,81.21 288.73,81.35 290.33,81.61 291.93,81.88 293.52,81.11 295.12,80.59 296.72,80.59 298.32,80.59 299.91,81.63 301.51,81.71 303.11,81.79 304.71,81.87 306.30,81.81 307.90,83.70 309.50,80.22 311.09,80.34 312.69,80.52 314.29,80.70 315.89,80.87 317.48,81.05 319.08,81.23 320.68,81.41 322.27,81.58 323.87,86.17 325.47,80.21 327.07,80.39 328.66,80.57 330.26,80.75 331.86,80.92 333.45,81.10 335.05,81.28 336.65,81.45 338.25,81.41 339.84,82.64 341.44,80.18 343.04,80.31 344.64,80.44 346.23,80.56 347.83,80.69 349.43,80.82 351.02,80.95 352.62,81.08 354.22,81.20 355.82,81.33 357.41,81.46 359.01,81.55 360.61,79.60 362.20,79.54 363.80,79.69 365.40,79.83 367.00,79.98 368.59,80.12 370.19,80.27 371.79,80.41 373.38,80.56 374.98,80.70 376.58,80.85 378.18,80.99 379.77,81.14 381.37,80.73 382.97,89.41 384.57,79.53 386.16,79.50 387.76,79.61 389.36,79.72 390.95,79.83 392.55,79.93 394.15,80.04 395.75,80.15 397.34,80.26 398.94,80.37 400.54,80.48 402.13,80.59 403.73,80.70 405.33,80.81 406.93,80.91 408.52,81.02 410.12,81.13 411.72,80.77 413.31,88.24 414.91,79.41 416.51,79.41 418.11,79.41 419.70,79.48 421.30,79.64 422.90,79.80 424.50,79.96 426.09,80.12 427.69,80.28 429.29,80.44 430.88,80.60 432.48,80.76 434.08,80.92 435.68,81.08 437.27,81.15 438.87,81.07 440.47,81.00 442.06,80.92 443.66,80.85 445.26,80.77 446.86,80.70 448.45,80.63 450.05,80.55 451.65,80.48 453.24,80.40 454.84,80.34 456.44,80.32 458.04,80.30 459.63,80.27 461.23,80.25 462.83,80.22 464.43,80.20 466.02,80.18 467.62,80.15 469.22,80.13 470.81,80.11 472.41,80.08 474.01,80.06 475.61,80.03 477.20,80.01 478.80,80.01 480.40,80.03 481.99,80.06 483.59,80.08 485.19,80.10 486.79,80.12 488.38,80.14 489.98,80.16 491.58,80.18 493.17,80.20 494.77,80.23 496.37,80.27 497.97,80.34 499.56,80.40 501.16,80.46 502.76,80.53 504.36,80.59 505.95,80.65 507.55,80.72 509.15,80.78 510.74,80.85 512.34,80.91 513.94,80.97 515.54,81.04 517.13,81.10 518.73,81.17 520.33,81.21 521.92,81.24 523.52,81.28 525.12,81.32 526.72,81.36 528.31,81.39 529.91,81.43 531.51,81.47 533.10,81.50 534.70,81.54 536.30,81.58 537.90,81.62 539.49,81.65 541.09,81.69 542.69,81.73 544.29,81.76 545.88,90.59 547.48,81.76 549.08,81.76 550.67,81.73 552.27,81.71 553.87,81.69 555.47,81.67 557.06,81.65 558.66,81.62 560.26,81.60 561.85,81.58 563.45,81.56 565.05,81.54 566.65,81.52 568.24,81.49 569.84,81.47 571.44,81.45 573.03,81.43 574.63,81.44 576.23,91.18 577.83,81.68 579.42,81.76 581.02,81.74 582.62,81.72 584.22,81.70 585.81,81.68 587.41,81.66 589.01,81.64 590.60,81.62 592.20,81.60 593.80,81.58 595.40,81.56 596.99,81.54 598.59,81.57 600.19,84.71 601.78,81.73 603.38,81.76 604.98,81.76 606.58,81.76 608.17,81.76 609.77,81.76 611.37,81.76 612.96,81.76 614.56,81.76 616.16,81.76 617.76,81.76 619.35,84.12 620.95,83.21 622.55,82.85 624.15,82.97 625.74,83.08 627.34,83.18 628.94,83.18 630.53,83.18 632.13,82.97 633.73,82.57 635.33,82.92 636.92,83.52 638.52,83.73 640.12,83.91 641.71,84.04 643.31,84.18 644.91,84.01 646.51,83.61 648.10,83.21 649.70,83.55 651.30,86.35 652.89,84.50 654.49,84.45 656.09,84.30 657.69,84.15 659.28,84.02 660.88,83.89 662.48,83.11 664.08,83.59 665.67,84.79 667.27,84.94 668.87,84.94 670.46,85.21 672.06,85.61 673.66,86.00 675.26,85.80 676.85,85.96 678.45,89.17 680.05,88.48 681.64,88.74 683.24,89.01 684.84,88.74 686.44,87.60 688.03,86.46 689.63,86.67 691.23,88.82 692.82,88.82 694.42,88.88 696.02,89.20 697.62,89.52 699.21,88.74 700.81,88.87 702.41,91.82 704.01,90.24 705.60,90.72 707.20,91.19 708.80,89.64 710.39,87.56 711.99,88.11 713.59,89.60 715.19,88.54 716.78,87.97 718.38,87.44 719.98,86.87 721.57,86.42 723.17,96.94 724.77,86.75 726.37,85.65 727.96,85.65 729.56,85.59 731.16,84.99 732.75,84.85 734.35,85.65 735.95,85.87 737.55,85.64 739.14,85.41 740.74,85.05 742.34,85.03 743.94,87.48 745.53,87.74 747.13,87.17 748.73,86.53 750.32,86.93 751.92,105.41 753.52,88.48 755.12,88.68 756.71,88.58 758.31,87.78 759.91,88.97 761.50,91.04 763.10,89.84 764.70,88.82 766.30,88.02 767.89,87.92 769.49,90.12 771.09,90.67 772.68,89.68 774.28,90.74 775.88,89.08 777.48,88.26 779.07,90.72 780.67,89.39 782.27,89.73 783.87,90.40 785.46,91.46 787.06,93.23 788.66,92.63 790.25,91.52 791.85,90.72 793.45,91.07 795.05,93.00 796.64,92.20 798.24,91.41 799.84,89.58 801.43,87.58 803.03,87.51 804.63,93.81 806.23,90.85 807.82,90.71 809.42,91.98 811.02,90.39 812.61,88.79 814.21,87.70 815.81,86.97 817.41,86.67 819.00,98.00 820.60,91.03 822.20,92.03 823.80,92.56 825.39,93.04 826.99,92.84 828.59,92.22 830.18,90.63 831.78,89.20 833.38,87.78" fill="none" stroke="#08088c" stroke-width="1.15" stroke-dasharray="4.4 1.6" stroke-linejoin="round"/>
<polyline points="119.43,123.05 121.03,115.29 122.62,115.49 124.22,115.89 125.82,116.11 127.42,116.27 129.01,116.34 130.61,116.34 132.21,116.34 133.80,115.08 135.40,120.93 137.00,113.20 138.60,114.07 140.19,114.94 141.79,115.14 143.39,115.22 144.99,114.95 146.58,114.69 148.18,113.72 149.78,123.75 151.37,111.56 152.97,111.96 154.57,111.32 156.17,110.04 157.76,109.53 159.36,110.13 160.96,110.24 162.55,110.08 164.15,108.96 165.75,106.89 167.35,107.55 168.94,108.22 170.54,107.63 172.14,105.56 173.73,104.13 175.33,104.66 176.93,103.88 178.53,103.00 180.12,102.59 181.72,117.34 183.32,101.83 184.92,102.10 186.51,102.36 188.11,102.04 189.71,110.29 191.30,99.65 192.90,98.90 194.50,98.30 196.10,97.50 197.69,96.53 199.29,94.94 200.89,95.04 202.48,95.36 204.08,95.19 205.68,94.79 207.28,103.23 208.87,93.02 210.47,93.15 212.07,93.28 213.66,93.05 215.26,92.45 216.86,107.46 218.46,92.63 220.05,92.90 221.65,93.16 223.25,93.18 224.85,92.65 226.44,104.99 228.04,89.47 229.64,89.53 231.23,90.06 232.83,90.46 234.43,89.89 236.03,95.47 237.62,88.81 239.22,90.17 240.82,90.57 242.41,90.60 244.01,90.00 245.61,89.60 247.21,108.11 248.80,89.07 250.40,88.93 252.00,88.79 253.59,88.62 255.19,88.36 256.79,88.09 258.39,87.87 259.98,87.67 261.58,87.41 263.18,87.14 264.78,87.03 266.37,87.43 267.97,87.35 269.57,104.58 271.16,86.29 272.76,86.52 274.36,86.75 275.96,86.92 277.55,86.84 279.15,86.76 280.75,89.05 282.34,86.60 283.94,86.66 285.54,86.76 287.14,86.86 288.73,87.06 290.33,87.66 291.93,87.29 293.52,85.69 295.12,85.40 296.72,85.75 298.32,86.09 299.91,86.99 301.51,87.19 303.11,87.39 304.71,87.56 306.30,86.87 307.90,91.82 309.50,85.50 311.09,85.55 312.69,85.64 314.29,85.73 315.89,85.82 317.48,85.90 319.08,85.99 320.68,86.08 322.27,86.17 323.87,103.11 325.47,85.16 327.07,85.38 328.66,85.61 330.26,85.83 331.86,86.05 333.45,86.27 335.05,86.49 336.65,86.72 338.25,86.57 339.84,88.29 341.44,84.43 343.04,84.75 344.64,85.07 346.23,85.39 347.83,85.70 349.43,85.99 351.02,86.26 352.62,86.52 354.22,86.79 355.82,87.05 357.41,87.32 359.01,87.51 360.61,84.18 362.20,84.42 363.80,84.65 365.40,84.89 367.00,85.12 368.59,85.36 370.19,85.59 371.79,85.83 373.38,86.06 374.98,86.29 376.58,86.53 378.18,86.76 379.77,87.00 381.37,86.46 382.97,104.12 384.57,84.86 386.16,84.87 387.76,85.07 389.36,85.27 390.95,85.46 392.55,85.66 394.15,85.86 395.75,86.06 397.34,86.26 398.94,86.46 400.54,86.66 402.13,86.86 403.73,87.06 405.33,87.26 406.93,87.46 408.52,87.61 410.12,87.03 411.72,86.44 413.31,102.94 414.91,85.30 416.51,85.76 418.11,86.22 419.70,86.60 421.30,86.88 422.90,87.17 424.50,87.46 426.09,87.75 427.69,88.03 429.29,88.32 430.88,88.61 432.48,88.90 434.08,89.18 435.68,89.47 437.27,89.63 438.87,89.59 440.47,89.55 442.06,89.51 443.66,89.47 445.26,89.43 446.86,89.30 448.45,89.09 450.05,88.87 451.65,88.65 453.24,88.43 454.84,88.21 456.44,88.00 458.04,87.78 459.63,87.75 461.23,88.02 462.83,88.29 464.43,88.55 466.02,88.82 467.62,88.69 469.22,88.55 470.81,88.41 472.41,88.27 474.01,88.13 475.61,88.03 477.20,88.35 478.80,88.67 480.40,88.99 481.99,89.30 483.59,89.62 485.19,89.80 486.79,89.96 488.38,90.11 489.98,90.27 491.58,90.43 493.17,90.59 494.77,90.75 496.37,91.05 497.97,91.47 499.56,91.88 501.16,92.29 502.76,92.70 504.36,93.06 505.95,93.36 507.55,93.66 509.15,93.96 510.74,94.26 512.34,94.56 513.94,94.62 515.54,94.46 517.13,94.30 518.73,94.14 520.33,94.97 521.92,95.29 523.52,95.61 525.12,95.93 526.72,96.25 528.31,96.57 529.91,96.89 531.51,97.02 533.10,96.94 534.70,96.86 536.30,96.78 537.90,96.70 539.49,96.62 541.09,96.54 542.69,96.53 544.29,97.17 545.88,114.12 547.48,98.45 549.08,98.79 550.67,98.71 552.27,98.63 553.87,98.55 555.47,98.47 557.06,98.39 558.66,98.31 560.26,98.23 561.85,98.16 563.45,98.09 565.05,98.01 566.65,97.94 568.24,97.87 569.84,97.80 571.44,97.72 573.03,97.65 574.63,98.40 576.23,118.82 577.83,100.00 579.42,100.59 581.02,100.59 582.62,100.59 584.22,100.59 585.81,100.59 587.41,100.59 589.01,100.59 590.60,100.67 592.20,100.81 593.80,100.94 595.40,101.07 596.99,101.21 598.59,101.37 600.19,111.18 601.78,101.69 603.38,101.62 604.98,101.36 606.58,101.09 608.17,100.82 609.77,100.56 611.37,100.29 612.96,100.03 614.56,100.18 616.16,100.38 617.76,100.58 619.35,109.41 620.95,105.52 622.55,104.52 624.15,104.46 625.74,104.59 627.34,104.63 628.94,104.23 630.53,103.83 632.13,103.43 633.73,102.26 635.33,102.27 636.92,105.73 638.52,106.02 640.12,106.29 641.71,106.46 643.31,106.46 644.91,105.63 646.51,104.16 648.10,102.70 649.70,103.39 651.30,112.46 652.89,108.12 654.49,107.72 656.09,107.32 657.69,106.68 659.28,105.88 660.88,104.53 662.48,103.10 664.08,105.49 665.67,108.33 667.27,107.53 668.87,107.28 670.46,107.48 672.06,107.84 673.66,108.21 675.26,107.22 676.85,107.45 678.45,113.87 680.05,110.35 681.64,110.62 683.24,110.89 684.84,110.45 686.44,108.85 688.03,107.25 689.63,107.40 691.23,111.93 692.82,111.54 694.42,111.01 696.02,110.81 697.62,110.61 699.21,110.41 700.81,112.27 702.41,113.52 704.01,111.40 705.60,111.00 707.20,110.60 708.80,109.64 710.39,107.64 711.99,108.70 713.59,110.70 715.19,109.37 716.78,108.73 718.38,108.03 719.98,106.83 721.57,106.33 723.17,120.23 724.77,107.39 726.37,107.12 727.96,106.59 729.56,105.97 731.16,104.57 732.75,104.44 734.35,106.81 735.95,106.17 737.55,105.53 739.14,104.98 740.74,104.33 742.34,104.41 743.94,108.50 745.53,108.18 747.13,107.84 748.73,107.04 750.32,106.24 751.92,125.87 753.52,110.32 755.12,109.92 756.71,109.34 758.31,108.34 759.91,109.72 761.50,112.17 763.10,110.77 764.70,109.58 766.30,108.65 767.89,107.72 769.49,108.63 771.09,110.00 772.68,110.40 774.28,110.80 775.88,110.36 777.48,108.73 779.07,111.92 780.67,111.11 782.27,110.04 783.87,109.61 785.46,109.88 787.06,113.07 788.66,112.81 790.25,111.68 791.85,110.85 793.45,111.49 795.05,114.16 796.64,113.21 798.24,112.25 799.84,110.40 801.43,108.40 803.03,108.07 804.63,113.36 806.23,111.76 807.82,111.79 809.42,112.48 811.02,111.02 812.61,109.55 814.21,108.77 815.81,108.48 817.41,108.46 819.00,119.52 820.60,111.66 822.20,112.30 823.80,112.57 825.39,112.79 826.99,112.39 828.59,111.55 830.18,109.69 831.78,108.08 833.38,106.49" fill="none" stroke="#00006a" stroke-width="1.45" stroke-dasharray="6.2 1.6" stroke-linejoin="round"/>
<polyline points="119.43,167.34 121.03,157.82 122.62,158.02 124.22,158.75 125.82,159.47 127.42,159.87 129.01,160.21 130.61,160.56 132.21,160.03 133.80,158.96 135.40,164.17 137.00,156.49 138.60,156.89 140.19,157.18 141.79,157.34 143.39,157.50 144.99,157.63 146.58,157.76 148.18,156.96 149.78,168.05 151.37,154.76 152.97,155.08 154.57,154.99 156.17,153.00 157.76,152.19 159.36,153.08 160.96,153.98 162.55,154.88 164.15,152.55 165.75,150.21 167.35,151.64 168.94,153.08 170.54,150.65 172.14,147.77 173.73,147.01 175.33,147.21 176.93,147.23 178.53,147.23 180.12,146.28 181.72,160.81 183.32,144.59 184.92,144.75 186.51,144.91 188.11,144.15 189.71,150.93 191.30,142.31 192.90,141.51 194.50,140.71 196.10,140.35 197.69,139.23 199.29,135.87 200.89,136.21 202.48,136.56 204.08,136.52 205.68,135.26 207.28,142.46 208.87,133.05 210.47,133.85 212.07,134.65 213.66,134.33 215.26,133.59 216.86,147.05 218.46,130.19 220.05,131.17 221.65,131.17 223.25,130.82 224.85,129.68 226.44,144.23 228.04,127.72 229.64,128.06 231.23,128.40 232.83,128.59 234.43,127.68 236.03,133.29 237.62,125.90 239.22,126.53 240.82,127.06 242.41,127.60 244.01,127.37 245.61,126.34 247.21,125.32 248.80,124.66 250.40,124.58 252.00,124.50 253.59,124.42 255.19,124.34 256.79,122.26 258.39,121.39 259.98,121.19 261.58,121.87 263.18,122.64 264.78,123.24 266.37,123.24 267.97,122.10 269.57,129.28 271.16,120.20 272.76,120.55 274.36,120.91 275.96,121.26 277.55,121.33 279.15,120.67 280.75,124.34 282.34,119.90 283.94,120.14 285.54,120.38 287.14,120.62 288.73,120.68 290.33,120.04 291.93,119.40 293.52,122.58 295.12,118.12 296.72,118.24 298.32,118.56 299.91,119.16 301.51,119.46 303.11,119.76 304.71,119.98 306.30,118.27 307.90,124.28 309.50,114.85 311.09,115.10 312.69,115.48 314.29,115.85 315.89,116.22 317.48,116.60 319.08,116.97 320.68,116.93 322.27,116.02 323.87,124.99 325.47,114.50 327.07,114.93 328.66,115.36 330.26,115.79 331.86,116.22 333.45,116.65 335.05,116.72 336.65,116.40 338.25,116.08 339.84,122.16 341.44,115.47 343.04,115.63 344.64,115.79 346.23,115.95 347.83,116.11 349.43,116.47 351.02,116.95 352.62,117.43 354.22,117.91 355.82,118.39 357.41,118.87 359.01,119.28 360.61,115.36 362.20,113.83 363.80,114.40 365.40,114.97 367.00,115.54 368.59,116.12 370.19,116.69 371.79,117.26 373.38,117.83 374.98,118.40 376.58,118.97 378.18,119.26 379.77,118.60 381.37,117.93 382.97,136.47 384.57,116.60 386.16,116.79 387.76,117.19 389.36,117.59 390.95,117.99 392.55,118.39 394.15,118.79 395.75,119.19 397.34,119.59 398.94,119.98 400.54,120.38 402.13,120.72 403.73,120.98 405.33,121.25 406.93,121.52 408.52,121.73 410.12,121.20 411.72,120.66 413.31,137.65 414.91,119.60 416.51,119.24 418.11,118.97 419.70,120.69 421.30,120.93 422.90,121.17 424.50,121.41 426.09,121.65 427.69,121.89 429.29,122.13 430.88,122.41 432.48,123.21 434.08,124.01 435.68,124.81 437.27,125.36 438.87,125.52 440.47,125.68 442.06,125.84 443.66,126.00 445.26,126.16 446.86,126.32 448.45,126.47 450.05,126.53 451.65,126.59 453.24,126.65 454.84,126.71 456.44,126.77 458.04,126.85 459.63,127.08 461.23,127.31 462.83,127.54 464.43,127.77 466.02,127.99 467.62,127.94 469.22,127.88 470.81,127.82 472.41,127.76 474.01,127.70 475.61,127.70 477.20,128.27 478.80,128.84 480.40,129.41 481.99,129.98 483.59,130.55 485.19,130.74 486.79,130.90 488.38,131.06 489.98,131.22 491.58,131.38 493.17,131.54 494.77,131.69 496.37,131.85 497.97,132.01 499.56,132.17 501.16,132.33 502.76,132.49 504.36,132.65 505.95,132.81 507.55,132.99 509.15,133.25 510.74,133.50 512.34,133.76 513.94,133.67 515.54,133.25 517.13,132.84 518.73,132.42 520.33,133.66 521.92,133.82 523.52,133.98 525.12,134.14 526.72,134.30 528.31,134.46 529.91,134.62 531.51,134.63 533.10,134.47 534.70,134.31 536.30,134.15 537.90,133.99 539.49,133.83 541.09,133.67 542.69,133.66 544.29,134.93 545.88,155.29 547.48,137.49 549.08,138.20 550.67,138.12 552.27,138.04 553.87,137.96 555.47,137.88 557.06,137.80 558.66,137.72 560.26,137.64 561.85,137.57 563.45,137.50 565.05,137.43 566.65,137.35 568.24,137.28 569.84,137.21 571.44,137.14 573.03,137.06 574.63,138.12 576.23,158.82 577.83,140.35 579.42,141.18 581.02,141.18 582.62,141.18 584.22,141.18 585.81,141.18 587.41,141.18 589.01,141.18 590.60,141.10 592.20,140.99 593.80,140.88 595.40,140.76 596.99,140.65 598.59,141.07 600.19,154.12 601.78,143.06 603.38,143.39 604.98,143.12 606.58,142.85 608.17,142.59 609.77,142.32 611.37,142.06 612.96,141.79 614.56,141.58 616.16,141.38 617.76,141.18 619.35,154.12 620.95,147.44 622.55,146.52 624.15,146.72 625.74,146.92 627.34,147.12 628.94,146.73 630.53,146.13 632.13,145.34 633.73,144.54 635.33,147.68 636.92,152.07 638.52,151.12 640.12,150.35 641.71,150.35 643.31,150.35 644.91,150.12 646.51,149.72 648.10,147.50 649.70,148.79 651.30,158.81 652.89,151.60 654.49,151.00 656.09,150.62 657.69,150.46 659.28,149.88 660.88,148.28 662.48,146.68 664.08,146.69 665.67,153.08 667.27,152.62 668.87,151.18 670.46,150.70 672.06,150.70 673.66,150.70 675.26,150.24 676.85,150.03 678.45,156.70 680.05,153.16 681.64,152.76 683.24,152.36 684.84,151.68 686.44,150.54 688.03,149.40 689.63,149.95 691.23,153.77 692.82,153.19 694.42,152.61 696.02,151.86 697.62,151.06 699.21,150.27 700.81,152.39 702.41,155.31 704.01,152.34 705.60,150.87 707.20,150.55 708.80,149.61 710.39,147.53 711.99,146.40 713.59,149.43 715.19,148.63 716.78,147.83 718.38,147.00 719.98,146.00 721.57,145.57 723.17,159.52 724.77,146.37 726.37,145.93 727.96,145.22 729.56,144.51 731.16,143.80 732.75,145.19 734.35,147.16 735.95,146.37 737.55,145.57 739.14,144.35 740.74,142.92 742.34,142.62 743.94,145.41 745.53,146.83 747.13,145.92 748.73,145.01 750.32,144.70 751.92,163.05 753.52,147.17 755.12,147.17 756.71,146.98 758.31,146.34 759.91,146.15 761.50,150.41 763.10,150.18 764.70,148.58 766.30,147.65 767.89,146.72 769.49,147.13 771.09,149.98 772.68,149.28 774.28,148.58 775.88,147.88 777.48,148.82 779.07,150.90 780.67,149.94 782.27,148.98 783.87,148.36 785.46,148.57 787.06,152.29 788.66,152.46 790.25,151.99 791.85,150.75 793.45,150.93 795.05,153.33 796.64,153.98 798.24,153.58 799.84,152.70 801.43,151.74 803.03,154.06 804.63,157.57 806.23,155.75 807.82,155.97 809.42,157.07 811.02,155.64 812.61,154.19 814.21,152.27 815.81,151.93 817.41,152.54 819.00,164.11 820.60,157.36 822.20,157.61 823.80,157.41 825.39,158.16 826.99,157.86 828.59,156.90 830.18,156.04 831.78,155.32 833.38,154.59" fill="none" stroke="#000058" stroke-width="1.6" stroke-dasharray="6.0 1.9" stroke-linejoin="round"/>
<polyline points="119.43,277.06 121.03,266.47 122.62,267.15 124.22,268.75 125.82,269.65 127.42,270.05 129.01,270.44 130.61,269.82 132.21,268.56 133.80,266.96 135.40,272.94 137.00,264.19 138.60,264.51 140.19,264.83 141.79,265.15 143.39,265.19 144.99,264.99 146.58,264.79 148.18,263.29 149.78,274.12 151.37,259.61 152.97,260.15 154.57,259.98 156.17,256.47 157.76,254.65 159.36,256.24 160.96,257.06 162.55,257.06 164.15,256.02 165.75,253.28 167.35,255.19 168.94,257.18 170.54,258.02 172.14,254.51 173.73,252.35 175.33,252.35 176.93,252.35 178.53,252.35 180.12,251.55 181.72,270.59 183.32,249.38 184.92,249.15 186.51,248.93 188.11,247.73 189.71,257.06 191.30,243.79 192.90,242.08 194.50,240.49 196.10,239.69 197.69,236.54 199.29,233.23 200.89,234.83 202.48,234.81 204.08,234.12 205.68,233.28 207.28,241.76 208.87,229.88 210.47,229.49 212.07,229.09 213.66,229.01 215.26,228.84 216.86,245.88 218.46,224.25 220.05,225.75 221.65,225.55 223.25,225.35 224.85,224.32 226.44,241.76 228.04,221.80 229.64,222.09 231.23,222.38 232.83,222.68 234.43,222.76 236.03,227.65 237.62,218.50 239.22,218.11 240.82,217.96 242.41,217.82 244.01,217.67 245.61,216.71 247.21,237.65 248.80,214.67 250.40,214.54 252.00,214.41 253.59,214.27 255.19,214.14 256.79,211.81 258.39,210.56 259.98,212.16 261.58,214.11 263.18,215.78 264.78,216.98 266.37,218.18 267.97,217.97 269.57,238.82 271.16,214.75 272.76,214.91 274.36,215.07 275.96,215.22 277.55,214.84 279.15,214.04 280.75,220.00 282.34,212.45 283.94,213.29 285.54,214.36 287.14,214.49 288.73,214.17 290.33,213.85 291.93,213.53 293.52,215.88 295.12,208.34 296.72,209.07 298.32,209.80 299.91,210.52 301.51,211.22 303.11,211.62 304.71,212.01 306.30,211.91 307.90,218.24 309.50,207.34 311.09,208.26 312.69,209.17 314.29,210.00 315.89,210.80 317.48,211.59 319.08,212.41 320.68,213.61 322.27,212.93 323.87,232.94 325.47,208.83 327.07,209.33 328.66,209.83 330.26,210.34 331.86,210.84 333.45,211.34 335.05,211.85 336.65,212.35 338.25,210.75 339.84,217.65 341.44,207.66 343.04,207.86 344.64,208.06 346.23,208.30 347.83,208.90 349.43,209.50 351.02,209.91 352.62,209.38 354.22,208.85 355.82,209.08 357.41,209.34 359.01,214.71 360.61,204.84 362.20,205.31 363.80,205.79 365.40,206.27 367.00,206.35 368.59,206.15 370.19,205.95 371.79,206.65 373.38,207.85 374.98,209.05 376.58,209.04 378.18,208.51 379.77,209.20 381.37,211.14 382.97,231.18 384.57,204.67 386.16,204.44 387.76,204.21 389.36,204.43 390.95,204.97 392.55,205.50 394.15,206.03 395.75,206.56 397.34,207.09 398.94,207.63 400.54,207.78 402.13,207.91 403.73,208.04 405.33,208.17 406.93,208.81 408.52,209.88 410.12,210.12 411.72,208.70 413.31,230.00 414.91,205.89 416.51,206.35 418.11,206.80 419.70,207.20 421.30,207.52 422.90,207.84 424.50,208.16 426.09,208.24 427.69,208.24 429.29,208.35 430.88,208.96 432.48,209.57 434.08,210.19 435.68,210.80 437.27,211.15 438.87,211.07 440.47,210.99 442.06,210.91 443.66,210.83 445.26,210.75 446.86,210.67 448.45,210.60 450.05,211.08 451.65,211.56 453.24,212.04 454.84,212.22 456.44,211.82 458.04,211.42 459.63,211.23 461.23,211.36 462.83,211.50 464.43,211.63 466.02,211.76 467.62,212.15 469.22,212.55 470.81,212.95 472.41,213.35 474.01,213.58 475.61,213.67 477.20,213.76 478.80,213.85 480.40,213.93 481.99,214.02 483.59,214.11 485.19,214.44 486.79,214.78 488.38,215.12 489.98,215.46 491.58,215.80 493.17,215.73 494.77,215.53 496.37,215.33 497.97,215.79 499.56,216.39 501.16,216.99 502.76,216.71 504.36,216.31 505.95,215.91 507.55,216.63 509.15,217.43 510.74,218.22 512.34,219.02 513.94,219.20 515.54,218.78 517.13,218.37 518.73,217.95 520.33,218.36 521.92,218.94 523.52,219.51 525.12,219.98 526.72,219.85 528.31,219.71 529.91,219.58 531.51,219.45 533.10,220.01 534.70,220.83 536.30,221.47 537.90,221.11 539.49,220.74 541.09,219.98 542.69,218.91 544.29,218.67 545.88,245.88 547.48,221.07 549.08,221.52 550.67,220.92 552.27,220.32 553.87,219.87 555.47,219.61 557.06,219.34 558.66,219.08 560.26,218.83 561.85,218.99 563.45,219.15 565.05,219.31 566.65,219.24 568.24,218.76 569.84,218.28 571.44,217.93 573.03,217.77 574.63,218.27 576.23,250.00 577.83,224.21 579.42,224.28 581.02,222.69 582.62,222.44 584.22,222.56 585.81,222.67 587.41,222.79 589.01,222.90 590.60,222.94 592.20,222.94 593.80,222.94 595.40,222.94 596.99,221.85 598.59,221.05 600.19,235.88 601.78,225.10 603.38,225.79 604.98,226.34 606.58,226.50 608.17,225.86 609.77,225.14 611.37,223.81 612.96,222.48 614.56,222.15 616.16,221.92 617.76,222.43 619.35,237.06 620.95,226.54 622.55,226.91 624.15,226.71 625.74,226.51 627.34,226.79 628.94,227.19 630.53,227.59 632.13,226.96 633.73,226.17 635.33,229.23 636.92,233.35 638.52,232.28 640.12,231.22 641.71,231.18 643.31,231.18 644.91,231.18 646.51,230.88 648.10,229.81 649.70,228.99 651.30,242.35 652.89,233.78 654.49,233.71 656.09,233.23 657.69,232.75 659.28,232.03 660.88,230.24 662.48,228.44 664.08,228.78 665.67,235.25 667.27,234.89 668.87,234.54 670.46,234.18 672.06,233.15 673.66,231.95 675.26,230.75 676.85,231.28 678.45,238.82 680.05,232.88 681.64,233.68 683.24,233.64 684.84,232.58 686.44,231.51 688.03,230.45 689.63,229.69 691.23,236.52 692.82,234.66 694.42,232.85 696.02,231.73 697.62,230.62 699.21,229.50 700.81,230.25 702.41,233.84 704.01,233.38 705.60,232.58 707.20,231.21 708.80,229.61 710.39,228.02 711.99,226.62 713.59,231.41 715.19,230.75 716.78,229.65 718.38,228.55 719.98,227.60 721.57,227.42 723.17,246.47 724.77,230.40 726.37,230.80 727.96,230.57 729.56,230.34 731.16,229.37 732.75,228.86 734.35,231.95 735.95,230.05 737.55,228.16 739.14,226.48 740.74,225.52 742.34,224.72 743.94,229.51 745.53,230.94 747.13,230.94 748.73,229.45 750.32,228.30 751.92,252.12 753.52,230.42 755.12,230.62 756.71,229.98 758.31,228.72 759.91,226.06 761.50,232.21 763.10,230.61 764.70,229.01 766.30,227.41 767.89,225.22 769.49,223.55 771.09,225.15 772.68,224.21 774.28,223.01 775.88,221.81 777.48,222.24 779.07,225.27 780.67,224.74 782.27,224.02 783.87,223.22 785.46,222.83 787.06,228.15 788.66,229.87 790.25,230.33 791.85,230.78 793.45,233.01 795.05,236.20 796.64,236.45 798.24,236.29 799.84,236.13 801.43,235.97 803.03,234.78 804.63,238.82 806.23,241.72 807.82,241.98 809.42,242.20 811.02,241.20 812.61,240.20 814.21,239.20 815.81,239.31 817.41,240.51 819.00,253.53 820.60,247.06 822.20,247.02 823.80,246.86 825.39,246.71 826.99,246.55 828.59,246.06 830.18,245.30 831.78,244.54 833.38,243.77" fill="none" stroke="#000" stroke-width="2.3" stroke-linejoin="round"/>
</g>
<g stroke="#000" stroke-width="1.1" fill="none" stroke-linecap="square"><line x1="119.5" y1="765.5" x2="833.5" y2="765.5"/><line x1="119.5" y1="39.5" x2="119.5" y2="765.5"/><line x1="833.5" y1="39.5" x2="833.5" y2="765.5"/><line x1="119.5" y1="39.5" x2="833.5" y2="39.5"/></g>
<g stroke="#000" stroke-width="1.1">
<line x1="119.50" y1="765.5" x2="119.50" y2="771.5"/>
<line x1="199.50" y1="765.5" x2="199.50" y2="771.5"/>
<line x1="279.50" y1="765.5" x2="279.50" y2="771.5"/>
<line x1="359.50" y1="765.5" x2="359.50" y2="771.5"/>
<line x1="438.50" y1="765.5" x2="438.50" y2="771.5"/>
<line x1="518.50" y1="765.5" x2="518.50" y2="771.5"/>
<line x1="598.50" y1="765.5" x2="598.50" y2="771.5"/>
<line x1="678.50" y1="765.5" x2="678.50" y2="771.5"/>
<line x1="758.50" y1="765.5" x2="758.50" y2="771.5"/>
<line x1="113.5" y1="731.50" x2="119.5" y2="731.50"/>
<line x1="113.5" y1="571.50" x2="119.5" y2="571.50"/>
<line x1="113.5" y1="411.50" x2="119.5" y2="411.50"/>
<line x1="113.5" y1="251.50" x2="119.5" y2="251.50"/>
<line x1="113.5" y1="91.50" x2="119.5" y2="91.50"/>
</g>
<rect x="119.4" y="17.06" width="713.90" height="22.44" rx="2.2" ry="2.2" fill="#fff" fill-opacity="0.8" stroke="#ccc" stroke-opacity="0.8" stroke-width="1.1"/>
<line x1="121.5" y1="39.5" x2="831.3" y2="39.5" stroke="#878787" stroke-width="1.2"/>
<line x1="124.3" y1="27.3" x2="147.6" y2="27.3" stroke="#c4c4ff" stroke-width="1.0" stroke-dasharray="3.0 1.0"/>
<line x1="278.3" y1="27.3" x2="301.6" y2="27.3" stroke="#9c9cff" stroke-width="1.2" stroke-dasharray="4.6 1.4"/>
<line x1="432.2" y1="27.3" x2="455.4" y2="27.3" stroke="#7474ff" stroke-width="1.6" stroke-dasharray="6.4 2.0"/>
<line x1="592.9" y1="27.3" x2="616.2" y2="27.3" stroke="#6262ff" stroke-width="2.2" stroke-dasharray="8.0 2.2"/>
<line x1="753.0" y1="27.3" x2="778.8" y2="27.3" stroke="#000" stroke-width="2.3"/>
</svg>
<svg class="ov" width="850" height="850" viewBox="0 0 850 850">
<text transform="translate(119.43,790.90) scale(0.94,1)" font-size="17.73" text-anchor="middle">0</text>
<text transform="translate(199.29,790.90) scale(0.94,1)" font-size="17.73" text-anchor="middle">50</text>
<text transform="translate(279.15,790.90) scale(0.94,1)" font-size="17.73" text-anchor="middle">100</text>
<text transform="translate(359.01,790.90) scale(0.94,1)" font-size="17.73" text-anchor="middle">150</text>
<text transform="translate(438.87,790.90) scale(0.94,1)" font-size="17.73" text-anchor="middle">200</text>
<text transform="translate(518.73,790.90) scale(0.94,1)" font-size="17.73" text-anchor="middle">250</text>
<text transform="translate(598.59,790.90) scale(0.94,1)" font-size="17.73" text-anchor="middle">300</text>
<text transform="translate(678.45,790.90) scale(0.94,1)" font-size="17.73" text-anchor="middle">350</text>
<text transform="translate(758.31,790.90) scale(0.94,1)" font-size="17.73" text-anchor="middle">400</text>
<text transform="translate(107.30,737.80) scale(0.94,1)" font-size="17.73" text-anchor="end">200</text>
<text transform="translate(107.30,577.80) scale(0.94,1)" font-size="17.73" text-anchor="end">400</text>
<text transform="translate(107.30,417.80) scale(0.94,1)" font-size="17.73" text-anchor="end">600</text>
<text transform="translate(107.30,257.80) scale(0.94,1)" font-size="17.73" text-anchor="end">800</text>
<text transform="translate(107.30,97.80) scale(0.94,1)" font-size="17.73" text-anchor="end">1000</text>
<text transform="translate(476.00,815.60) scale(0.94,1)" font-size="17.73" text-anchor="middle">Binned row index</text>
<text transform="translate(54.40,403.40) rotate(-90) scale(0.94,1)" font-size="17.73" text-anchor="middle">Cloud pressure [hPa]</text>
<text transform="translate(156.00,31.80) scale(0.94,1)" font-size="12.31" text-anchor="start">1-99%</text>
<text transform="translate(310.70,31.80) scale(0.94,1)" font-size="12.31" text-anchor="start">5-95%</text>
<text transform="translate(464.10,31.80) scale(0.94,1)" font-size="12.31" text-anchor="start">10-90%</text>
<text transform="translate(625.90,31.80) scale(0.94,1)" font-size="12.31" text-anchor="start">25-75%</text>
<text transform="translate(787.00,31.80) scale(0.94,1)" font-size="12.31" text-anchor="start">Median</text>
</svg></div></body></html>
